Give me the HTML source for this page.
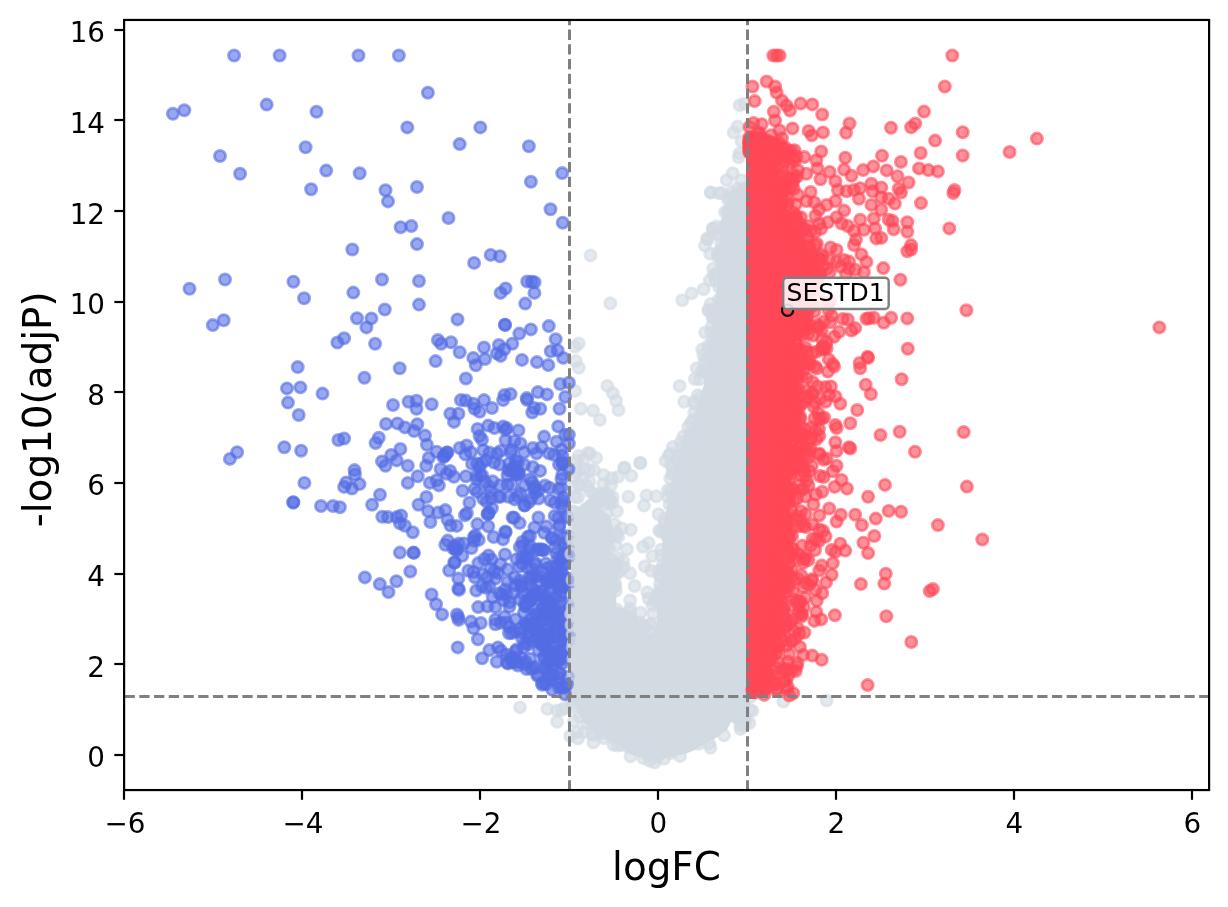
<!DOCTYPE html>
<html lang="en"><head><meta charset="utf-8"><title>Volcano plot</title>
<style>html,body{margin:0;padding:0;background:#fff}svg{display:block}text{font-family:"DejaVu Sans","Liberation Sans",sans-serif;fill:#000}</style></head>
<body>
<svg width="1228" height="907" viewBox="0 0 1228 907">
<rect width="1228" height="907" fill="#fff"/>
<defs><clipPath id="ax"><rect x="124.1" y="19.95" width="1085" height="770.1"/></clipPath></defs>
<g clip-path="url(#ax)">
<polygon fill="#d2dae2" points="747.5,182.0 738.0,186.0 730.0,196.0 724.0,210.0 720.0,225.0 720.0,253.0 717.0,286.0 713.0,319.0 707.0,352.0 704.0,385.0 693.0,418.0 678.0,451.0 671.0,484.0 665.0,517.0 663.0,533.0 661.0,566.0 658.0,600.0 656.0,628.0 650.0,634.0 638.0,621.0 636.0,612.0 616.0,606.0 617.0,582.0 619.0,572.0 608.0,557.0 614.0,531.0 609.0,514.0 590.0,510.0 572.0,512.0 568.0,700.0 574.0,704.0 579.0,715.0 584.0,723.0 592.0,730.0 602.0,734.0 606.0,740.0 615.0,742.0 623.0,748.0 632.0,755.0 644.0,758.0 658.0,760.0 672.0,757.0 685.0,754.0 695.0,750.0 704.0,744.0 716.0,738.0 727.0,730.0 731.0,722.0 739.0,726.0 747.0,724.0 750.0,712.0 750.0,700.0 746.0,700.0 746.0,182.0"/>
<g fill="#d2dae2" stroke="#d2dae2" fill-opacity="0.6" stroke-opacity="0.6" stroke-width="2.8">
<circle cx="590.5" cy="255.4" r="5.6"/>
<circle cx="610.3" cy="303.3" r="5.6"/>
<circle cx="682.3" cy="300.3" r="5.6"/>
<circle cx="691.7" cy="293.4" r="5.6"/>
<circle cx="703.6" cy="289.2" r="5.6"/>
<circle cx="710.3" cy="253.7" r="5.6"/>
<circle cx="578.8" cy="343.5" r="5.6"/>
<circle cx="575.1" cy="346.7" r="5.6"/>
<circle cx="575.8" cy="361.1" r="5.6"/>
<circle cx="578.8" cy="367.8" r="5.6"/>
<circle cx="575.1" cy="390.9" r="5.6"/>
<circle cx="580.8" cy="408.8" r="5.6"/>
<circle cx="593.0" cy="410.5" r="5.6"/>
<circle cx="599.9" cy="419.9" r="5.6"/>
<circle cx="607.3" cy="385.9" r="5.6"/>
<circle cx="612.8" cy="393.1" r="5.6"/>
<circle cx="616.0" cy="400.8" r="5.6"/>
<circle cx="618.5" cy="410.0" r="5.6"/>
<circle cx="679.6" cy="385.9" r="5.6"/>
<circle cx="694.9" cy="379.0" r="5.6"/>
<circle cx="696.7" cy="368.3" r="5.6"/>
<circle cx="640.3" cy="462.9" r="5.6"/>
<circle cx="624.2" cy="467.8" r="5.6"/>
<circle cx="590.0" cy="453.4" r="5.6"/>
<circle cx="596.2" cy="457.9" r="5.6"/>
<circle cx="578.8" cy="455.9" r="5.6"/>
<circle cx="710.8" cy="192.5" r="5.6"/>
<circle cx="719.0" cy="193.2" r="5.6"/>
<circle cx="712.8" cy="228.4" r="5.6"/>
<circle cx="707.8" cy="239.6" r="5.6"/>
<circle cx="739.7" cy="105.3" r="5.6"/>
<circle cx="744.6" cy="103.7" r="5.6"/>
<circle cx="737.7" cy="126.5" r="5.6"/>
<circle cx="733.7" cy="132.5" r="5.6"/>
<circle cx="741.6" cy="141.4" r="5.6"/>
<circle cx="739.7" cy="153.3" r="5.6"/>
<circle cx="738.7" cy="157.3" r="5.6"/>
<circle cx="732.7" cy="173.2" r="5.6"/>
<circle cx="726.7" cy="180.1" r="5.6"/>
<circle cx="710.9" cy="192.4" r="5.6"/>
<circle cx="721.8" cy="193.0" r="5.6"/>
<circle cx="731.7" cy="192.0" r="5.6"/>
<circle cx="741.6" cy="191.0" r="5.6"/>
<circle cx="712.9" cy="228.7" r="5.6"/>
<circle cx="706.9" cy="238.7" r="5.6"/>
<circle cx="547.4" cy="708.9" r="5.6"/>
<circle cx="557.1" cy="710.6" r="5.6"/>
<circle cx="561.7" cy="710.0" r="5.6"/>
<circle cx="565.0" cy="708.0" r="5.6"/>
<circle cx="572.1" cy="707.4" r="5.6"/>
<circle cx="557.1" cy="721.7" r="5.6"/>
<circle cx="574.1" cy="721.0" r="5.6"/>
<circle cx="587.1" cy="723.6" r="5.6"/>
<circle cx="570.2" cy="736.0" r="5.6"/>
<circle cx="578.0" cy="738.6" r="5.6"/>
<circle cx="577.3" cy="732.1" r="5.6"/>
<circle cx="583.8" cy="732.1" r="5.6"/>
<circle cx="593.4" cy="742.5" r="5.6"/>
<circle cx="520.0" cy="707.4" r="5.6"/>
<circle cx="710.4" cy="747.8" r="5.6"/>
<circle cx="724.0" cy="735.4" r="5.6"/>
<circle cx="749.4" cy="723.0" r="5.6"/>
<circle cx="750.1" cy="710.0" r="5.6"/>
<circle cx="750.7" cy="696.9" r="5.6"/>
<circle cx="783.3" cy="701.5" r="5.6"/>
<circle cx="740.3" cy="725.6" r="5.6"/>
<circle cx="826.7" cy="700.6" r="5.6"/>
<circle cx="658.9" cy="602.1" r="5.6"/>
<circle cx="655.1" cy="601.2" r="5.6"/>
<circle cx="653.0" cy="613.4" r="5.6"/>
<circle cx="650.9" cy="623.8" r="5.6"/>
<circle cx="660.1" cy="584.2" r="5.6"/>
<circle cx="661.9" cy="569.6" r="5.6"/>
<circle cx="667.2" cy="577.7" r="5.6"/>
<circle cx="660.3" cy="592.8" r="5.6"/>
<circle cx="666.3" cy="588.9" r="5.6"/>
<circle cx="660.2" cy="576.3" r="5.6"/>
<circle cx="657.6" cy="594.5" r="5.6"/>
<circle cx="660.3" cy="576.5" r="5.6"/>
<circle cx="658.3" cy="571.0" r="5.6"/>
<circle cx="660.3" cy="589.3" r="5.6"/>
<circle cx="655.6" cy="598.9" r="5.6"/>
<circle cx="658.0" cy="595.6" r="5.6"/>
<circle cx="666.8" cy="565.8" r="5.6"/>
<circle cx="661.1" cy="549.7" r="5.6"/>
<circle cx="669.4" cy="556.1" r="5.6"/>
<circle cx="666.4" cy="535.2" r="5.6"/>
<circle cx="661.3" cy="555.6" r="5.6"/>
<circle cx="663.1" cy="563.9" r="5.6"/>
<circle cx="669.5" cy="531.5" r="5.6"/>
<circle cx="664.5" cy="518.6" r="5.6"/>
<circle cx="671.6" cy="528.2" r="5.6"/>
<circle cx="666.1" cy="531.1" r="5.6"/>
<circle cx="660.7" cy="531.7" r="5.6"/>
<circle cx="663.9" cy="530.5" r="5.6"/>
<circle cx="664.5" cy="523.3" r="5.6"/>
<circle cx="659.1" cy="530.6" r="5.6"/>
<circle cx="656.3" cy="496.3" r="5.6"/>
<circle cx="675.5" cy="495.0" r="5.6"/>
<circle cx="672.8" cy="495.1" r="5.6"/>
<circle cx="658.6" cy="514.2" r="5.6"/>
<circle cx="667.8" cy="490.1" r="5.6"/>
<circle cx="670.8" cy="491.1" r="5.6"/>
<circle cx="669.6" cy="504.5" r="5.6"/>
<circle cx="668.1" cy="496.9" r="5.6"/>
<circle cx="673.0" cy="473.2" r="5.6"/>
<circle cx="670.3" cy="478.5" r="5.6"/>
<circle cx="665.5" cy="460.9" r="5.6"/>
<circle cx="672.3" cy="474.0" r="5.6"/>
<circle cx="677.4" cy="459.5" r="5.6"/>
<circle cx="670.4" cy="453.6" r="5.6"/>
<circle cx="670.9" cy="464.7" r="5.6"/>
<circle cx="679.3" cy="466.3" r="5.6"/>
<circle cx="668.8" cy="455.4" r="5.6"/>
<circle cx="672.7" cy="467.3" r="5.6"/>
<circle cx="677.8" cy="455.3" r="5.6"/>
<circle cx="683.4" cy="436.4" r="5.6"/>
<circle cx="691.1" cy="432.4" r="5.6"/>
<circle cx="689.2" cy="436.2" r="5.6"/>
<circle cx="691.0" cy="422.6" r="5.6"/>
<circle cx="686.1" cy="452.0" r="5.6"/>
<circle cx="672.9" cy="446.9" r="5.6"/>
<circle cx="681.3" cy="447.7" r="5.6"/>
<circle cx="688.1" cy="427.1" r="5.6"/>
<circle cx="680.8" cy="442.1" r="5.6"/>
<circle cx="689.9" cy="439.0" r="5.6"/>
<circle cx="693.7" cy="419.5" r="5.6"/>
<circle cx="700.1" cy="398.0" r="5.6"/>
<circle cx="693.7" cy="401.7" r="5.6"/>
<circle cx="684.1" cy="401.7" r="5.6"/>
<circle cx="694.8" cy="403.7" r="5.6"/>
<circle cx="694.3" cy="412.8" r="5.6"/>
<circle cx="697.9" cy="395.3" r="5.6"/>
<circle cx="704.5" cy="362.0" r="5.6"/>
<circle cx="710.8" cy="353.4" r="5.6"/>
<circle cx="699.6" cy="379.3" r="5.6"/>
<circle cx="709.7" cy="374.5" r="5.6"/>
<circle cx="705.5" cy="371.9" r="5.6"/>
<circle cx="701.6" cy="371.8" r="5.6"/>
<circle cx="703.4" cy="355.0" r="5.6"/>
<circle cx="710.6" cy="359.0" r="5.6"/>
<circle cx="705.5" cy="371.9" r="5.6"/>
<circle cx="706.6" cy="358.7" r="5.6"/>
<circle cx="704.2" cy="369.5" r="5.6"/>
<circle cx="711.9" cy="326.1" r="5.6"/>
<circle cx="711.1" cy="332.3" r="5.6"/>
<circle cx="710.4" cy="348.3" r="5.6"/>
<circle cx="705.2" cy="332.5" r="5.6"/>
<circle cx="708.1" cy="345.9" r="5.6"/>
<circle cx="712.4" cy="339.9" r="5.6"/>
<circle cx="702.2" cy="349.4" r="5.6"/>
<circle cx="719.3" cy="313.1" r="5.6"/>
<circle cx="710.7" cy="304.0" r="5.6"/>
<circle cx="712.8" cy="316.6" r="5.6"/>
<circle cx="712.6" cy="310.6" r="5.6"/>
<circle cx="721.2" cy="306.4" r="5.6"/>
<circle cx="716.1" cy="310.2" r="5.6"/>
<circle cx="712.9" cy="318.3" r="5.6"/>
<circle cx="719.3" cy="287.2" r="5.6"/>
<circle cx="718.4" cy="300.1" r="5.6"/>
<circle cx="713.6" cy="315.6" r="5.6"/>
<circle cx="708.5" cy="311.0" r="5.6"/>
<circle cx="708.7" cy="309.4" r="5.6"/>
<circle cx="717.7" cy="256.4" r="5.6"/>
<circle cx="721.8" cy="263.7" r="5.6"/>
<circle cx="724.4" cy="267.5" r="5.6"/>
<circle cx="718.9" cy="255.0" r="5.6"/>
<circle cx="717.2" cy="273.6" r="5.6"/>
<circle cx="723.0" cy="259.9" r="5.6"/>
<circle cx="713.2" cy="268.5" r="5.6"/>
<circle cx="715.6" cy="280.8" r="5.6"/>
<circle cx="709.9" cy="280.3" r="5.6"/>
<circle cx="724.1" cy="254.6" r="5.6"/>
<circle cx="713.7" cy="274.9" r="5.6"/>
<circle cx="722.6" cy="269.5" r="5.6"/>
<circle cx="716.3" cy="226.6" r="5.6"/>
<circle cx="712.6" cy="233.2" r="5.6"/>
<circle cx="720.2" cy="235.2" r="5.6"/>
<circle cx="727.2" cy="234.1" r="5.6"/>
<circle cx="704.9" cy="245.6" r="5.6"/>
<circle cx="721.8" cy="248.5" r="5.6"/>
<circle cx="721.2" cy="242.9" r="5.6"/>
<circle cx="717.7" cy="252.5" r="5.6"/>
<circle cx="725.9" cy="235.5" r="5.6"/>
<circle cx="724.3" cy="230.4" r="5.6"/>
<circle cx="721.8" cy="250.3" r="5.6"/>
<circle cx="587.0" cy="510.4" r="5.6"/>
<circle cx="573.0" cy="511.3" r="5.6"/>
<circle cx="585.0" cy="509.8" r="5.6"/>
<circle cx="589.0" cy="514.3" r="5.6"/>
<circle cx="597.8" cy="500.0" r="5.6"/>
<circle cx="603.8" cy="499.5" r="5.6"/>
<circle cx="596.6" cy="509.9" r="5.6"/>
<circle cx="593.3" cy="509.3" r="5.6"/>
<circle cx="614.5" cy="524.2" r="5.6"/>
<circle cx="621.7" cy="528.3" r="5.6"/>
<circle cx="616.7" cy="534.4" r="5.6"/>
<circle cx="609.0" cy="548.7" r="5.6"/>
<circle cx="607.7" cy="541.8" r="5.6"/>
<circle cx="603.4" cy="545.5" r="5.6"/>
<circle cx="609.5" cy="537.9" r="5.6"/>
<circle cx="606.2" cy="554.8" r="5.6"/>
<circle cx="601.9" cy="553.6" r="5.6"/>
<circle cx="616.8" cy="532.9" r="5.6"/>
<circle cx="618.1" cy="536.9" r="5.6"/>
<circle cx="618.1" cy="558.2" r="5.6"/>
<circle cx="613.4" cy="564.6" r="5.6"/>
<circle cx="612.2" cy="560.0" r="5.6"/>
<circle cx="624.0" cy="567.4" r="5.6"/>
<circle cx="617.2" cy="564.9" r="5.6"/>
<circle cx="604.0" cy="561.8" r="5.6"/>
<circle cx="619.1" cy="572.1" r="5.6"/>
<circle cx="615.8" cy="574.1" r="5.6"/>
<circle cx="615.2" cy="583.8" r="5.6"/>
<circle cx="615.2" cy="585.8" r="5.6"/>
<circle cx="611.6" cy="587.1" r="5.6"/>
<circle cx="615.9" cy="590.7" r="5.6"/>
<circle cx="612.9" cy="588.2" r="5.6"/>
<circle cx="616.5" cy="609.2" r="5.6"/>
<circle cx="629.1" cy="612.0" r="5.6"/>
<circle cx="630.2" cy="608.4" r="5.6"/>
<circle cx="640.7" cy="612.8" r="5.6"/>
<circle cx="642.3" cy="625.7" r="5.6"/>
<circle cx="649.6" cy="630.8" r="5.6"/>
<circle cx="640.4" cy="625.7" r="5.6"/>
<circle cx="649.3" cy="625.0" r="5.6"/>
<circle cx="645.1" cy="636.9" r="5.6"/>
<circle cx="639.8" cy="622.4" r="5.6"/>
<circle cx="645.4" cy="627.2" r="5.6"/>
<circle cx="725.4" cy="224.6" r="5.6"/>
<circle cx="728.9" cy="211.8" r="5.6"/>
<circle cx="725.1" cy="212.3" r="5.6"/>
<circle cx="727.8" cy="199.5" r="5.6"/>
<circle cx="729.8" cy="198.1" r="5.6"/>
<circle cx="727.8" cy="210.8" r="5.6"/>
<circle cx="738.0" cy="188.5" r="5.6"/>
<circle cx="732.9" cy="195.7" r="5.6"/>
<circle cx="745.6" cy="188.0" r="5.6"/>
<circle cx="741.2" cy="180.3" r="5.6"/>
<circle cx="752.4" cy="710.9" r="5.6"/>
<circle cx="743.8" cy="702.7" r="5.6"/>
<circle cx="744.3" cy="715.4" r="5.6"/>
<circle cx="745.8" cy="720.2" r="5.6"/>
<circle cx="744.0" cy="720.3" r="5.6"/>
<circle cx="740.5" cy="729.0" r="5.6"/>
<circle cx="744.5" cy="725.5" r="5.6"/>
<circle cx="709.2" cy="743.4" r="5.6"/>
<circle cx="698.9" cy="743.9" r="5.6"/>
<circle cx="680.1" cy="756.1" r="5.6"/>
<circle cx="670.1" cy="753.2" r="5.6"/>
<circle cx="659.3" cy="754.0" r="5.6"/>
<circle cx="664.0" cy="758.8" r="5.6"/>
<circle cx="644.8" cy="753.4" r="5.6"/>
<circle cx="649.7" cy="760.7" r="5.6"/>
<circle cx="650.9" cy="754.5" r="5.6"/>
<circle cx="657.3" cy="756.7" r="5.6"/>
<circle cx="654.6" cy="762.6" r="5.6"/>
<circle cx="643.2" cy="758.1" r="5.6"/>
<circle cx="630.5" cy="756.4" r="5.6"/>
<circle cx="629.1" cy="747.4" r="5.6"/>
<circle cx="617.5" cy="745.5" r="5.6"/>
<circle cx="621.9" cy="745.0" r="5.6"/>
<circle cx="613.1" cy="737.3" r="5.6"/>
<circle cx="613.4" cy="744.7" r="5.6"/>
<circle cx="604.1" cy="738.2" r="5.6"/>
<circle cx="600.8" cy="733.5" r="5.6"/>
<circle cx="591.9" cy="734.2" r="5.6"/>
<circle cx="595.5" cy="734.7" r="5.6"/>
<circle cx="579.7" cy="716.9" r="5.6"/>
<circle cx="571.4" cy="699.7" r="5.6"/>
<circle cx="571.7" cy="704.0" r="5.6"/>
<circle cx="589.5" cy="511.9" r="5.6"/>
<circle cx="606.6" cy="493.6" r="5.6"/>
<circle cx="578.0" cy="497.2" r="5.6"/>
<circle cx="583.7" cy="469.0" r="5.6"/>
<circle cx="578.5" cy="484.6" r="5.6"/>
<circle cx="577.0" cy="460.5" r="5.6"/>
<circle cx="598.4" cy="502.6" r="5.6"/>
<circle cx="605.8" cy="493.7" r="5.6"/>
<circle cx="590.2" cy="491.5" r="5.6"/>
<circle cx="588.0" cy="453.0" r="5.6"/>
<circle cx="576.8" cy="472.9" r="5.6"/>
<circle cx="612.5" cy="502.9" r="5.6"/>
<circle cx="593.9" cy="470.1" r="5.6"/>
<circle cx="574.9" cy="497.1" r="5.6"/>
<circle cx="593.9" cy="504.2" r="5.6"/>
<circle cx="612.6" cy="496.9" r="5.6"/>
<circle cx="603.2" cy="484.1" r="5.6"/>
<circle cx="580.3" cy="485.4" r="5.6"/>
<circle cx="593.8" cy="493.5" r="5.6"/>
<circle cx="608.8" cy="496.5" r="5.6"/>
<circle cx="576.7" cy="468.7" r="5.6"/>
<circle cx="588.6" cy="507.2" r="5.6"/>
<circle cx="601.4" cy="493.5" r="5.6"/>
<circle cx="606.6" cy="513.8" r="5.6"/>
<circle cx="591.5" cy="504.4" r="5.6"/>
<circle cx="573.7" cy="486.7" r="5.6"/>
<circle cx="599.6" cy="515.7" r="5.6"/>
<circle cx="603.5" cy="475.0" r="5.6"/>
<circle cx="583.1" cy="478.6" r="5.6"/>
<circle cx="589.4" cy="481.4" r="5.6"/>
<circle cx="611.0" cy="485.3" r="5.6"/>
<circle cx="589.1" cy="470.0" r="5.6"/>
<circle cx="581.1" cy="512.5" r="5.6"/>
<circle cx="595.0" cy="503.0" r="5.6"/>
<circle cx="587.5" cy="486.4" r="5.6"/>
<circle cx="583.9" cy="459.1" r="5.6"/>
<circle cx="610.4" cy="501.6" r="5.6"/>
<circle cx="597.3" cy="496.9" r="5.6"/>
<circle cx="607.7" cy="503.5" r="5.6"/>
<circle cx="573.7" cy="476.6" r="5.6"/>
<circle cx="640.2" cy="463.0" r="5.6"/>
<circle cx="624.5" cy="468.0" r="5.6"/>
<circle cx="631.3" cy="475.7" r="5.6"/>
<circle cx="611.8" cy="478.2" r="5.6"/>
<circle cx="618.1" cy="476.9" r="5.6"/>
<circle cx="628.3" cy="496.7" r="5.6"/>
<circle cx="646.5" cy="495.4" r="5.6"/>
<circle cx="644.0" cy="505.6" r="5.6"/>
<circle cx="616.9" cy="511.2" r="5.6"/>
<circle cx="609.3" cy="502.3" r="5.6"/>
<circle cx="630.8" cy="529.7" r="5.6"/>
<circle cx="643.0" cy="546.7" r="5.6"/>
<circle cx="648.6" cy="542.9" r="5.6"/>
<circle cx="627.0" cy="549.2" r="5.6"/>
<circle cx="615.6" cy="545.4" r="5.6"/>
<circle cx="623.2" cy="561.1" r="5.6"/>
<circle cx="652.4" cy="556.0" r="5.6"/>
<circle cx="644.8" cy="566.2" r="5.6"/>
<circle cx="651.1" cy="570.8" r="5.6"/>
<circle cx="630.1" cy="573.3" r="5.6"/>
<circle cx="634.6" cy="586.0" r="5.6"/>
<circle cx="647.3" cy="592.3" r="5.6"/>
<circle cx="648.6" cy="598.7" r="5.6"/>
<circle cx="630.1" cy="600.4" r="5.6"/>
<circle cx="652.4" cy="605.0" r="5.6"/>
</g>
<g fill="#546de5" stroke="#546de5" fill-opacity="0.6" stroke-opacity="0.6" stroke-width="2.8">
<circle cx="234.1" cy="55.5" r="5.6"/>
<circle cx="279.6" cy="55.5" r="5.6"/>
<circle cx="358.5" cy="55.5" r="5.6"/>
<circle cx="398.9" cy="55.5" r="5.6"/>
<circle cx="172.9" cy="113.8" r="5.6"/>
<circle cx="184.3" cy="110.3" r="5.6"/>
<circle cx="266.7" cy="104.6" r="5.6"/>
<circle cx="316.5" cy="111.8" r="5.6"/>
<circle cx="407.3" cy="127.4" r="5.6"/>
<circle cx="305.6" cy="147.3" r="5.6"/>
<circle cx="220.0" cy="156.0" r="5.6"/>
<circle cx="240.1" cy="173.8" r="5.6"/>
<circle cx="326.2" cy="170.6" r="5.6"/>
<circle cx="359.7" cy="173.3" r="5.6"/>
<circle cx="311.1" cy="189.2" r="5.6"/>
<circle cx="385.5" cy="190.2" r="5.6"/>
<circle cx="388.0" cy="201.4" r="5.6"/>
<circle cx="417.0" cy="187.0" r="5.6"/>
<circle cx="400.6" cy="227.2" r="5.6"/>
<circle cx="411.3" cy="226.0" r="5.6"/>
<circle cx="417.0" cy="244.1" r="5.6"/>
<circle cx="427.9" cy="92.7" r="5.6"/>
<circle cx="480.3" cy="127.4" r="5.6"/>
<circle cx="459.7" cy="144.1" r="5.6"/>
<circle cx="528.9" cy="146.3" r="5.6"/>
<circle cx="562.2" cy="173.1" r="5.6"/>
<circle cx="530.9" cy="181.8" r="5.6"/>
<circle cx="550.5" cy="209.3" r="5.6"/>
<circle cx="448.5" cy="218.0" r="5.6"/>
<circle cx="562.7" cy="222.7" r="5.6"/>
<circle cx="352.3" cy="249.5" r="5.6"/>
<circle cx="189.5" cy="288.7" r="5.6"/>
<circle cx="225.0" cy="279.5" r="5.6"/>
<circle cx="293.4" cy="281.7" r="5.6"/>
<circle cx="304.1" cy="298.3" r="5.6"/>
<circle cx="382.0" cy="279.5" r="5.6"/>
<circle cx="353.3" cy="292.6" r="5.6"/>
<circle cx="419.0" cy="281.0" r="5.6"/>
<circle cx="419.0" cy="304.6" r="5.6"/>
<circle cx="384.8" cy="309.5" r="5.6"/>
<circle cx="212.8" cy="325.1" r="5.6"/>
<circle cx="223.7" cy="320.2" r="5.6"/>
<circle cx="357.0" cy="318.2" r="5.6"/>
<circle cx="371.4" cy="318.4" r="5.6"/>
<circle cx="366.4" cy="327.4" r="5.6"/>
<circle cx="344.1" cy="338.3" r="5.6"/>
<circle cx="337.4" cy="342.5" r="5.6"/>
<circle cx="375.1" cy="343.8" r="5.6"/>
<circle cx="297.7" cy="367.1" r="5.6"/>
<circle cx="399.7" cy="368.3" r="5.6"/>
<circle cx="364.4" cy="377.8" r="5.6"/>
<circle cx="287.0" cy="388.4" r="5.6"/>
<circle cx="300.4" cy="387.4" r="5.6"/>
<circle cx="322.5" cy="393.6" r="5.6"/>
<circle cx="288.0" cy="402.6" r="5.6"/>
<circle cx="298.7" cy="415.0" r="5.6"/>
<circle cx="393.0" cy="405.0" r="5.6"/>
<circle cx="408.6" cy="401.8" r="5.6"/>
<circle cx="416.5" cy="400.8" r="5.6"/>
<circle cx="416.5" cy="408.8" r="5.6"/>
<circle cx="386.0" cy="423.9" r="5.6"/>
<circle cx="397.4" cy="423.4" r="5.6"/>
<circle cx="404.9" cy="427.4" r="5.6"/>
<circle cx="414.0" cy="431.1" r="5.6"/>
<circle cx="417.3" cy="424.2" r="5.6"/>
<circle cx="338.4" cy="440.0" r="5.6"/>
<circle cx="344.1" cy="438.5" r="5.6"/>
<circle cx="378.8" cy="437.8" r="5.6"/>
<circle cx="375.6" cy="443.0" r="5.6"/>
<circle cx="237.1" cy="452.2" r="5.6"/>
<circle cx="229.9" cy="458.9" r="5.6"/>
<circle cx="284.3" cy="447.2" r="5.6"/>
<circle cx="301.1" cy="450.7" r="5.6"/>
<circle cx="400.4" cy="449.0" r="5.6"/>
<circle cx="391.2" cy="454.9" r="5.6"/>
<circle cx="396.7" cy="460.4" r="5.6"/>
<circle cx="382.0" cy="461.4" r="5.6"/>
<circle cx="385.5" cy="465.8" r="5.6"/>
<circle cx="407.8" cy="465.8" r="5.6"/>
<circle cx="354.5" cy="470.1" r="5.6"/>
<circle cx="490.7" cy="254.9" r="5.6"/>
<circle cx="499.9" cy="256.2" r="5.6"/>
<circle cx="474.1" cy="262.9" r="5.6"/>
<circle cx="527.2" cy="281.5" r="5.6"/>
<circle cx="531.7" cy="281.7" r="5.6"/>
<circle cx="534.6" cy="282.2" r="5.6"/>
<circle cx="505.6" cy="288.4" r="5.6"/>
<circle cx="500.6" cy="292.9" r="5.6"/>
<circle cx="534.4" cy="292.9" r="5.6"/>
<circle cx="525.2" cy="303.6" r="5.6"/>
<circle cx="457.5" cy="319.4" r="5.6"/>
<circle cx="504.9" cy="324.7" r="5.6"/>
<circle cx="505.1" cy="324.9" r="5.6"/>
<circle cx="530.9" cy="329.4" r="5.6"/>
<circle cx="519.3" cy="333.6" r="5.6"/>
<circle cx="548.8" cy="326.1" r="5.6"/>
<circle cx="555.7" cy="339.3" r="5.6"/>
<circle cx="437.9" cy="340.0" r="5.6"/>
<circle cx="441.1" cy="343.8" r="5.6"/>
<circle cx="451.0" cy="342.3" r="5.6"/>
<circle cx="459.7" cy="352.2" r="5.6"/>
<circle cx="435.6" cy="361.1" r="5.6"/>
<circle cx="484.0" cy="347.5" r="5.6"/>
<circle cx="498.9" cy="345.0" r="5.6"/>
<circle cx="504.4" cy="349.2" r="5.6"/>
<circle cx="496.9" cy="353.4" r="5.6"/>
<circle cx="500.6" cy="355.9" r="5.6"/>
<circle cx="512.3" cy="343.8" r="5.6"/>
<circle cx="473.3" cy="357.9" r="5.6"/>
<circle cx="485.0" cy="359.1" r="5.6"/>
<circle cx="475.8" cy="365.3" r="5.6"/>
<circle cx="522.0" cy="359.9" r="5.6"/>
<circle cx="536.9" cy="362.1" r="5.6"/>
<circle cx="548.3" cy="365.1" r="5.6"/>
<circle cx="550.8" cy="351.2" r="5.6"/>
<circle cx="557.7" cy="350.5" r="5.6"/>
<circle cx="563.2" cy="357.9" r="5.6"/>
<circle cx="465.9" cy="378.5" r="5.6"/>
<circle cx="560.2" cy="384.0" r="5.6"/>
<circle cx="568.9" cy="382.7" r="5.6"/>
<circle cx="565.2" cy="396.9" r="5.6"/>
<circle cx="431.7" cy="404.3" r="5.6"/>
<circle cx="460.9" cy="400.1" r="5.6"/>
<circle cx="465.9" cy="400.6" r="5.6"/>
<circle cx="473.3" cy="403.8" r="5.6"/>
<circle cx="484.0" cy="400.1" r="5.6"/>
<circle cx="474.6" cy="408.8" r="5.6"/>
<circle cx="479.6" cy="411.7" r="5.6"/>
<circle cx="492.0" cy="408.0" r="5.6"/>
<circle cx="504.4" cy="395.1" r="5.6"/>
<circle cx="510.6" cy="394.1" r="5.6"/>
<circle cx="503.1" cy="400.1" r="5.6"/>
<circle cx="526.7" cy="398.1" r="5.6"/>
<circle cx="527.2" cy="400.1" r="5.6"/>
<circle cx="537.9" cy="392.1" r="5.6"/>
<circle cx="547.0" cy="394.4" r="5.6"/>
<circle cx="534.1" cy="408.0" r="5.6"/>
<circle cx="540.3" cy="408.8" r="5.6"/>
<circle cx="532.2" cy="412.5" r="5.6"/>
<circle cx="559.5" cy="408.8" r="5.6"/>
<circle cx="450.3" cy="413.7" r="5.6"/>
<circle cx="458.5" cy="413.7" r="5.6"/>
<circle cx="454.0" cy="421.9" r="5.6"/>
<circle cx="477.6" cy="428.9" r="5.6"/>
<circle cx="488.2" cy="425.6" r="5.6"/>
<circle cx="494.4" cy="428.1" r="5.6"/>
<circle cx="503.1" cy="426.6" r="5.6"/>
<circle cx="506.8" cy="428.1" r="5.6"/>
<circle cx="505.6" cy="429.9" r="5.6"/>
<circle cx="518.5" cy="430.4" r="5.6"/>
<circle cx="558.2" cy="426.4" r="5.6"/>
<circle cx="479.6" cy="436.1" r="5.6"/>
<circle cx="482.0" cy="439.8" r="5.6"/>
<circle cx="505.6" cy="440.3" r="5.6"/>
<circle cx="514.3" cy="441.0" r="5.6"/>
<circle cx="520.5" cy="443.5" r="5.6"/>
<circle cx="544.1" cy="436.6" r="5.6"/>
<circle cx="556.5" cy="441.8" r="5.6"/>
<circle cx="565.2" cy="434.8" r="5.6"/>
<circle cx="568.9" cy="434.8" r="5.6"/>
<circle cx="568.9" cy="443.5" r="5.6"/>
<circle cx="425.0" cy="435.6" r="5.6"/>
<circle cx="426.9" cy="444.8" r="5.6"/>
<circle cx="436.6" cy="451.7" r="5.6"/>
<circle cx="446.8" cy="452.4" r="5.6"/>
<circle cx="459.7" cy="448.0" r="5.6"/>
<circle cx="466.7" cy="445.5" r="5.6"/>
<circle cx="470.9" cy="452.2" r="5.6"/>
<circle cx="483.3" cy="450.2" r="5.6"/>
<circle cx="496.9" cy="453.4" r="5.6"/>
<circle cx="500.6" cy="451.0" r="5.6"/>
<circle cx="510.6" cy="452.2" r="5.6"/>
<circle cx="511.8" cy="449.7" r="5.6"/>
<circle cx="524.2" cy="452.2" r="5.6"/>
<circle cx="532.9" cy="448.0" r="5.6"/>
<circle cx="536.6" cy="453.4" r="5.6"/>
<circle cx="541.6" cy="447.2" r="5.6"/>
<circle cx="549.0" cy="453.4" r="5.6"/>
<circle cx="554.0" cy="454.7" r="5.6"/>
<circle cx="561.4" cy="449.7" r="5.6"/>
<circle cx="428.7" cy="457.9" r="5.6"/>
<circle cx="426.2" cy="465.8" r="5.6"/>
<circle cx="472.1" cy="463.9" r="5.6"/>
<circle cx="477.1" cy="463.4" r="5.6"/>
<circle cx="482.0" cy="462.9" r="5.6"/>
<circle cx="499.4" cy="464.6" r="5.6"/>
<circle cx="509.3" cy="463.4" r="5.6"/>
<circle cx="518.0" cy="462.1" r="5.6"/>
<circle cx="524.2" cy="464.6" r="5.6"/>
<circle cx="532.9" cy="467.1" r="5.6"/>
<circle cx="559.0" cy="464.6" r="5.6"/>
<circle cx="562.7" cy="463.4" r="5.6"/>
<circle cx="304.4" cy="482.9" r="5.6"/>
<circle cx="355.0" cy="474.5" r="5.6"/>
<circle cx="346.3" cy="482.4" r="5.6"/>
<circle cx="344.1" cy="486.9" r="5.6"/>
<circle cx="352.0" cy="488.6" r="5.6"/>
<circle cx="359.5" cy="484.1" r="5.6"/>
<circle cx="407.8" cy="482.9" r="5.6"/>
<circle cx="417.8" cy="476.2" r="5.6"/>
<circle cx="380.0" cy="494.8" r="5.6"/>
<circle cx="372.1" cy="504.7" r="5.6"/>
<circle cx="418.5" cy="504.7" r="5.6"/>
<circle cx="293.2" cy="502.3" r="5.6"/>
<circle cx="293.4" cy="502.5" r="5.6"/>
<circle cx="321.0" cy="506.0" r="5.6"/>
<circle cx="332.9" cy="506.0" r="5.6"/>
<circle cx="339.9" cy="507.2" r="5.6"/>
<circle cx="382.3" cy="516.7" r="5.6"/>
<circle cx="388.0" cy="517.1" r="5.6"/>
<circle cx="396.7" cy="517.1" r="5.6"/>
<circle cx="401.1" cy="515.4" r="5.6"/>
<circle cx="399.9" cy="523.3" r="5.6"/>
<circle cx="404.9" cy="525.8" r="5.6"/>
<circle cx="412.8" cy="532.3" r="5.6"/>
<circle cx="399.9" cy="552.6" r="5.6"/>
<circle cx="413.5" cy="552.6" r="5.6"/>
<circle cx="413.8" cy="552.9" r="5.6"/>
<circle cx="410.3" cy="571.5" r="5.6"/>
<circle cx="364.9" cy="577.4" r="5.6"/>
<circle cx="379.8" cy="584.1" r="5.6"/>
<circle cx="396.4" cy="581.2" r="5.6"/>
<circle cx="388.5" cy="592.1" r="5.6"/>
<circle cx="431.6" cy="594.5" r="5.6"/>
<circle cx="436.1" cy="604.2" r="5.6"/>
<circle cx="442.1" cy="614.4" r="5.6"/>
<circle cx="458.3" cy="588.6" r="5.6"/>
<circle cx="459.0" cy="589.9" r="5.6"/>
<circle cx="458.3" cy="578.6" r="5.6"/>
<circle cx="457.0" cy="614.4" r="5.6"/>
<circle cx="458.1" cy="617.3" r="5.6"/>
<circle cx="458.6" cy="619.9" r="5.6"/>
<circle cx="474.9" cy="577.3" r="5.6"/>
<circle cx="476.2" cy="590.6" r="5.6"/>
<circle cx="482.1" cy="586.6" r="5.6"/>
<circle cx="486.1" cy="587.9" r="5.6"/>
<circle cx="489.4" cy="585.9" r="5.6"/>
<circle cx="478.2" cy="607.1" r="5.6"/>
<circle cx="487.4" cy="606.4" r="5.6"/>
<circle cx="495.4" cy="607.1" r="5.6"/>
<circle cx="470.9" cy="621.6" r="5.6"/>
<circle cx="480.8" cy="623.0" r="5.6"/>
<circle cx="473.5" cy="628.2" r="5.6"/>
<circle cx="477.9" cy="639.2" r="5.6"/>
<circle cx="457.7" cy="647.4" r="5.6"/>
<circle cx="495.4" cy="619.7" r="5.6"/>
<circle cx="495.4" cy="624.3" r="5.6"/>
<circle cx="482.1" cy="658.3" r="5.6"/>
<circle cx="496.7" cy="661.7" r="5.6"/>
<circle cx="489.4" cy="650.1" r="5.6"/>
<circle cx="498.0" cy="647.4" r="5.6"/>
<circle cx="492.7" cy="597.2" r="5.6"/>
<circle cx="499.3" cy="593.2" r="5.6"/>
<circle cx="487.4" cy="577.3" r="5.6"/>
<circle cx="495.4" cy="578.6" r="5.6"/>
<circle cx="528.4" cy="625.7" r="5.6"/>
<circle cx="555.7" cy="597.2" r="5.6"/>
<circle cx="531.2" cy="668.8" r="5.6"/>
<circle cx="528.9" cy="598.3" r="5.6"/>
<circle cx="567.9" cy="620.6" r="5.6"/>
<circle cx="557.9" cy="682.8" r="5.6"/>
<circle cx="558.1" cy="558.5" r="5.6"/>
<circle cx="462.6" cy="490.7" r="5.6"/>
<circle cx="528.1" cy="557.0" r="5.6"/>
<circle cx="525.0" cy="606.1" r="5.6"/>
<circle cx="484.8" cy="481.5" r="5.6"/>
<circle cx="550.0" cy="601.7" r="5.6"/>
<circle cx="482.7" cy="574.4" r="5.6"/>
<circle cx="527.5" cy="634.5" r="5.6"/>
<circle cx="540.3" cy="581.4" r="5.6"/>
<circle cx="563.7" cy="639.9" r="5.6"/>
<circle cx="559.3" cy="617.5" r="5.6"/>
<circle cx="545.9" cy="563.4" r="5.6"/>
<circle cx="546.8" cy="568.2" r="5.6"/>
<circle cx="517.9" cy="471.4" r="5.6"/>
<circle cx="525.1" cy="557.0" r="5.6"/>
<circle cx="547.4" cy="663.4" r="5.6"/>
<circle cx="449.2" cy="570.5" r="5.6"/>
<circle cx="535.5" cy="492.5" r="5.6"/>
<circle cx="558.5" cy="489.0" r="5.6"/>
<circle cx="544.8" cy="646.4" r="5.6"/>
<circle cx="525.3" cy="664.4" r="5.6"/>
<circle cx="507.7" cy="581.8" r="5.6"/>
<circle cx="562.3" cy="652.2" r="5.6"/>
<circle cx="541.3" cy="571.1" r="5.6"/>
<circle cx="509.2" cy="627.0" r="5.6"/>
<circle cx="525.2" cy="602.6" r="5.6"/>
<circle cx="473.3" cy="572.0" r="5.6"/>
<circle cx="546.1" cy="684.2" r="5.6"/>
<circle cx="519.6" cy="523.1" r="5.6"/>
<circle cx="443.4" cy="457.0" r="5.6"/>
<circle cx="542.1" cy="614.1" r="5.6"/>
<circle cx="563.9" cy="537.2" r="5.6"/>
<circle cx="536.0" cy="614.4" r="5.6"/>
<circle cx="462.3" cy="555.7" r="5.6"/>
<circle cx="514.7" cy="577.6" r="5.6"/>
<circle cx="555.3" cy="610.0" r="5.6"/>
<circle cx="548.7" cy="635.5" r="5.6"/>
<circle cx="521.4" cy="586.2" r="5.6"/>
<circle cx="546.5" cy="526.4" r="5.6"/>
<circle cx="498.0" cy="573.1" r="5.6"/>
<circle cx="566.5" cy="627.0" r="5.6"/>
<circle cx="504.4" cy="616.8" r="5.6"/>
<circle cx="565.4" cy="577.4" r="5.6"/>
<circle cx="536.2" cy="636.1" r="5.6"/>
<circle cx="531.3" cy="641.2" r="5.6"/>
<circle cx="563.2" cy="564.8" r="5.6"/>
<circle cx="555.1" cy="605.9" r="5.6"/>
<circle cx="540.8" cy="622.5" r="5.6"/>
<circle cx="568.4" cy="609.3" r="5.6"/>
<circle cx="505.5" cy="531.5" r="5.6"/>
<circle cx="519.3" cy="473.5" r="5.6"/>
<circle cx="512.0" cy="633.1" r="5.6"/>
<circle cx="548.3" cy="662.9" r="5.6"/>
<circle cx="565.0" cy="694.3" r="5.6"/>
<circle cx="561.8" cy="659.9" r="5.6"/>
<circle cx="559.0" cy="687.7" r="5.6"/>
<circle cx="530.0" cy="536.0" r="5.6"/>
<circle cx="453.2" cy="548.2" r="5.6"/>
<circle cx="465.0" cy="515.2" r="5.6"/>
<circle cx="559.9" cy="635.5" r="5.6"/>
<circle cx="526.6" cy="669.1" r="5.6"/>
<circle cx="540.1" cy="470.9" r="5.6"/>
<circle cx="491.9" cy="508.3" r="5.6"/>
<circle cx="538.5" cy="490.5" r="5.6"/>
<circle cx="563.0" cy="500.7" r="5.6"/>
<circle cx="547.7" cy="668.4" r="5.6"/>
<circle cx="557.1" cy="645.0" r="5.6"/>
<circle cx="551.8" cy="665.2" r="5.6"/>
<circle cx="478.4" cy="563.1" r="5.6"/>
<circle cx="523.2" cy="593.2" r="5.6"/>
<circle cx="463.9" cy="543.4" r="5.6"/>
<circle cx="561.4" cy="503.8" r="5.6"/>
<circle cx="542.9" cy="608.6" r="5.6"/>
<circle cx="522.0" cy="563.7" r="5.6"/>
<circle cx="551.3" cy="566.8" r="5.6"/>
<circle cx="454.2" cy="562.5" r="5.6"/>
<circle cx="568.5" cy="612.8" r="5.6"/>
<circle cx="551.3" cy="659.4" r="5.6"/>
<circle cx="553.4" cy="581.2" r="5.6"/>
<circle cx="486.5" cy="460.1" r="5.6"/>
<circle cx="542.2" cy="683.0" r="5.6"/>
<circle cx="522.9" cy="545.6" r="5.6"/>
<circle cx="515.7" cy="460.8" r="5.6"/>
<circle cx="558.1" cy="581.2" r="5.6"/>
<circle cx="569.0" cy="636.2" r="5.6"/>
<circle cx="455.3" cy="547.0" r="5.6"/>
<circle cx="531.5" cy="617.8" r="5.6"/>
<circle cx="521.2" cy="632.4" r="5.6"/>
<circle cx="567.1" cy="517.7" r="5.6"/>
<circle cx="550.4" cy="500.3" r="5.6"/>
<circle cx="532.3" cy="576.8" r="5.6"/>
<circle cx="486.8" cy="501.8" r="5.6"/>
<circle cx="515.8" cy="651.2" r="5.6"/>
<circle cx="555.3" cy="627.5" r="5.6"/>
<circle cx="564.0" cy="586.4" r="5.6"/>
<circle cx="478.7" cy="539.9" r="5.6"/>
<circle cx="530.0" cy="545.8" r="5.6"/>
<circle cx="560.9" cy="591.8" r="5.6"/>
<circle cx="456.1" cy="550.4" r="5.6"/>
<circle cx="445.3" cy="544.7" r="5.6"/>
<circle cx="542.7" cy="591.1" r="5.6"/>
<circle cx="512.1" cy="484.7" r="5.6"/>
<circle cx="536.3" cy="594.8" r="5.6"/>
<circle cx="489.5" cy="452.6" r="5.6"/>
<circle cx="559.6" cy="673.1" r="5.6"/>
<circle cx="567.4" cy="580.8" r="5.6"/>
<circle cx="445.3" cy="510.1" r="5.6"/>
<circle cx="549.4" cy="672.8" r="5.6"/>
<circle cx="551.3" cy="616.9" r="5.6"/>
<circle cx="549.8" cy="600.9" r="5.6"/>
<circle cx="500.4" cy="564.3" r="5.6"/>
<circle cx="542.3" cy="644.0" r="5.6"/>
<circle cx="513.3" cy="661.6" r="5.6"/>
<circle cx="532.2" cy="482.0" r="5.6"/>
<circle cx="530.7" cy="600.2" r="5.6"/>
<circle cx="533.4" cy="627.6" r="5.6"/>
<circle cx="488.5" cy="555.4" r="5.6"/>
<circle cx="477.4" cy="524.1" r="5.6"/>
<circle cx="525.3" cy="643.1" r="5.6"/>
<circle cx="446.7" cy="473.7" r="5.6"/>
<circle cx="524.6" cy="505.6" r="5.6"/>
<circle cx="548.9" cy="582.2" r="5.6"/>
<circle cx="558.5" cy="659.0" r="5.6"/>
<circle cx="552.8" cy="573.2" r="5.6"/>
<circle cx="494.2" cy="462.5" r="5.6"/>
<circle cx="533.8" cy="488.6" r="5.6"/>
<circle cx="554.2" cy="636.9" r="5.6"/>
<circle cx="516.0" cy="474.2" r="5.6"/>
<circle cx="426.4" cy="497.0" r="5.6"/>
<circle cx="512.3" cy="662.2" r="5.6"/>
<circle cx="447.7" cy="540.6" r="5.6"/>
<circle cx="564.5" cy="544.3" r="5.6"/>
<circle cx="563.4" cy="497.4" r="5.6"/>
<circle cx="475.3" cy="535.5" r="5.6"/>
<circle cx="550.6" cy="578.2" r="5.6"/>
<circle cx="508.3" cy="470.0" r="5.6"/>
<circle cx="471.5" cy="548.1" r="5.6"/>
<circle cx="538.6" cy="498.5" r="5.6"/>
<circle cx="529.1" cy="502.1" r="5.6"/>
<circle cx="567.7" cy="587.1" r="5.6"/>
<circle cx="518.3" cy="474.9" r="5.6"/>
<circle cx="541.7" cy="644.9" r="5.6"/>
<circle cx="552.2" cy="537.4" r="5.6"/>
<circle cx="465.3" cy="454.4" r="5.6"/>
<circle cx="551.8" cy="538.3" r="5.6"/>
<circle cx="530.6" cy="600.3" r="5.6"/>
<circle cx="456.7" cy="525.9" r="5.6"/>
<circle cx="454.7" cy="545.7" r="5.6"/>
<circle cx="534.5" cy="562.3" r="5.6"/>
<circle cx="560.5" cy="652.2" r="5.6"/>
<circle cx="483.2" cy="498.8" r="5.6"/>
<circle cx="545.5" cy="630.5" r="5.6"/>
<circle cx="536.5" cy="599.8" r="5.6"/>
<circle cx="549.9" cy="604.4" r="5.6"/>
<circle cx="528.0" cy="644.5" r="5.6"/>
<circle cx="566.1" cy="634.3" r="5.6"/>
<circle cx="543.5" cy="656.6" r="5.6"/>
<circle cx="566.6" cy="556.0" r="5.6"/>
<circle cx="534.5" cy="527.5" r="5.6"/>
<circle cx="526.5" cy="558.7" r="5.6"/>
<circle cx="543.7" cy="667.9" r="5.6"/>
<circle cx="552.2" cy="689.8" r="5.6"/>
<circle cx="556.3" cy="574.0" r="5.6"/>
<circle cx="490.5" cy="568.2" r="5.6"/>
<circle cx="493.7" cy="537.0" r="5.6"/>
<circle cx="521.3" cy="657.9" r="5.6"/>
<circle cx="519.6" cy="599.4" r="5.6"/>
<circle cx="562.6" cy="463.4" r="5.6"/>
<circle cx="554.7" cy="515.9" r="5.6"/>
<circle cx="567.4" cy="578.5" r="5.6"/>
<circle cx="533.4" cy="589.7" r="5.6"/>
<circle cx="560.6" cy="559.7" r="5.6"/>
<circle cx="531.4" cy="596.8" r="5.6"/>
<circle cx="531.6" cy="568.8" r="5.6"/>
<circle cx="537.4" cy="576.1" r="5.6"/>
<circle cx="509.4" cy="606.7" r="5.6"/>
<circle cx="538.4" cy="517.5" r="5.6"/>
<circle cx="501.0" cy="650.7" r="5.6"/>
<circle cx="438.2" cy="512.6" r="5.6"/>
<circle cx="535.8" cy="594.3" r="5.6"/>
<circle cx="520.4" cy="493.6" r="5.6"/>
<circle cx="548.2" cy="633.9" r="5.6"/>
<circle cx="491.1" cy="498.3" r="5.6"/>
<circle cx="562.4" cy="687.6" r="5.6"/>
<circle cx="488.3" cy="526.4" r="5.6"/>
<circle cx="547.9" cy="655.1" r="5.6"/>
<circle cx="537.2" cy="675.5" r="5.6"/>
<circle cx="517.6" cy="661.3" r="5.6"/>
<circle cx="564.5" cy="635.3" r="5.6"/>
<circle cx="563.2" cy="650.3" r="5.6"/>
<circle cx="555.7" cy="540.3" r="5.6"/>
<circle cx="525.8" cy="606.3" r="5.6"/>
<circle cx="521.2" cy="583.4" r="5.6"/>
<circle cx="515.5" cy="619.4" r="5.6"/>
<circle cx="548.6" cy="638.6" r="5.6"/>
<circle cx="562.2" cy="556.9" r="5.6"/>
<circle cx="466.9" cy="513.3" r="5.6"/>
<circle cx="479.5" cy="466.9" r="5.6"/>
<circle cx="539.9" cy="642.6" r="5.6"/>
<circle cx="488.9" cy="512.7" r="5.6"/>
<circle cx="560.5" cy="595.6" r="5.6"/>
<circle cx="545.0" cy="613.4" r="5.6"/>
<circle cx="526.8" cy="624.3" r="5.6"/>
<circle cx="468.3" cy="570.7" r="5.6"/>
<circle cx="490.3" cy="491.1" r="5.6"/>
<circle cx="536.3" cy="666.8" r="5.6"/>
<circle cx="567.0" cy="684.2" r="5.6"/>
<circle cx="534.6" cy="591.8" r="5.6"/>
<circle cx="525.7" cy="661.7" r="5.6"/>
<circle cx="544.0" cy="616.7" r="5.6"/>
<circle cx="506.4" cy="654.7" r="5.6"/>
<circle cx="505.0" cy="554.4" r="5.6"/>
<circle cx="562.1" cy="581.0" r="5.6"/>
<circle cx="553.9" cy="578.2" r="5.6"/>
<circle cx="552.4" cy="620.9" r="5.6"/>
<circle cx="541.9" cy="594.4" r="5.6"/>
<circle cx="547.0" cy="599.9" r="5.6"/>
<circle cx="509.5" cy="602.2" r="5.6"/>
<circle cx="522.1" cy="557.3" r="5.6"/>
<circle cx="561.7" cy="578.5" r="5.6"/>
<circle cx="500.4" cy="496.8" r="5.6"/>
<circle cx="515.1" cy="585.3" r="5.6"/>
<circle cx="511.7" cy="470.2" r="5.6"/>
<circle cx="549.7" cy="591.6" r="5.6"/>
<circle cx="538.4" cy="549.2" r="5.6"/>
<circle cx="482.0" cy="475.1" r="5.6"/>
<circle cx="566.5" cy="553.9" r="5.6"/>
<circle cx="562.5" cy="633.3" r="5.6"/>
<circle cx="543.7" cy="550.4" r="5.6"/>
<circle cx="453.9" cy="476.8" r="5.6"/>
<circle cx="548.9" cy="677.1" r="5.6"/>
<circle cx="501.7" cy="594.5" r="5.6"/>
<circle cx="509.0" cy="633.2" r="5.6"/>
<circle cx="484.5" cy="559.0" r="5.6"/>
<circle cx="523.5" cy="647.8" r="5.6"/>
<circle cx="529.5" cy="577.1" r="5.6"/>
<circle cx="544.6" cy="682.2" r="5.6"/>
<circle cx="515.2" cy="465.6" r="5.6"/>
<circle cx="545.0" cy="485.5" r="5.6"/>
<circle cx="556.1" cy="553.2" r="5.6"/>
<circle cx="562.3" cy="663.5" r="5.6"/>
<circle cx="530.1" cy="658.7" r="5.6"/>
<circle cx="556.5" cy="627.1" r="5.6"/>
<circle cx="469.4" cy="502.7" r="5.6"/>
<circle cx="561.5" cy="479.2" r="5.6"/>
<circle cx="562.3" cy="474.7" r="5.6"/>
<circle cx="560.7" cy="602.3" r="5.6"/>
<circle cx="535.7" cy="576.1" r="5.6"/>
<circle cx="514.3" cy="467.9" r="5.6"/>
<circle cx="538.8" cy="629.7" r="5.6"/>
<circle cx="537.5" cy="592.2" r="5.6"/>
<circle cx="555.4" cy="660.1" r="5.6"/>
<circle cx="440.6" cy="469.0" r="5.6"/>
<circle cx="543.2" cy="619.9" r="5.6"/>
<circle cx="556.0" cy="623.6" r="5.6"/>
<circle cx="488.0" cy="514.1" r="5.6"/>
<circle cx="556.8" cy="566.8" r="5.6"/>
<circle cx="534.5" cy="623.9" r="5.6"/>
<circle cx="533.8" cy="667.8" r="5.6"/>
<circle cx="477.3" cy="492.1" r="5.6"/>
<circle cx="562.7" cy="506.9" r="5.6"/>
<circle cx="554.9" cy="547.6" r="5.6"/>
<circle cx="542.9" cy="549.8" r="5.6"/>
<circle cx="527.8" cy="536.7" r="5.6"/>
<circle cx="500.9" cy="622.7" r="5.6"/>
<circle cx="561.4" cy="487.9" r="5.6"/>
<circle cx="514.1" cy="517.7" r="5.6"/>
<circle cx="465.9" cy="476.2" r="5.6"/>
<circle cx="550.6" cy="588.0" r="5.6"/>
<circle cx="503.0" cy="539.4" r="5.6"/>
<circle cx="491.5" cy="559.5" r="5.6"/>
<circle cx="534.2" cy="629.7" r="5.6"/>
<circle cx="527.1" cy="567.6" r="5.6"/>
<circle cx="530.6" cy="579.3" r="5.6"/>
<circle cx="476.5" cy="475.8" r="5.6"/>
<circle cx="534.8" cy="486.3" r="5.6"/>
<circle cx="548.3" cy="612.3" r="5.6"/>
<circle cx="548.0" cy="604.8" r="5.6"/>
<circle cx="532.1" cy="624.0" r="5.6"/>
<circle cx="508.6" cy="496.7" r="5.6"/>
<circle cx="447.4" cy="452.5" r="5.6"/>
<circle cx="436.6" cy="480.2" r="5.6"/>
<circle cx="554.7" cy="502.6" r="5.6"/>
<circle cx="529.8" cy="585.2" r="5.6"/>
<circle cx="489.0" cy="486.4" r="5.6"/>
<circle cx="566.4" cy="515.7" r="5.6"/>
<circle cx="543.7" cy="645.9" r="5.6"/>
<circle cx="520.4" cy="628.5" r="5.6"/>
<circle cx="507.5" cy="569.4" r="5.6"/>
<circle cx="473.9" cy="537.2" r="5.6"/>
<circle cx="536.6" cy="634.4" r="5.6"/>
<circle cx="535.9" cy="615.6" r="5.6"/>
<circle cx="508.2" cy="663.6" r="5.6"/>
<circle cx="558.1" cy="677.0" r="5.6"/>
<circle cx="559.0" cy="527.0" r="5.6"/>
<circle cx="559.3" cy="640.7" r="5.6"/>
<circle cx="546.7" cy="580.1" r="5.6"/>
<circle cx="515.4" cy="471.4" r="5.6"/>
<circle cx="514.6" cy="499.4" r="5.6"/>
<circle cx="510.7" cy="658.6" r="5.6"/>
<circle cx="522.1" cy="638.3" r="5.6"/>
<circle cx="517.9" cy="665.5" r="5.6"/>
<circle cx="568.7" cy="556.0" r="5.6"/>
<circle cx="567.9" cy="676.7" r="5.6"/>
<circle cx="567.9" cy="547.8" r="5.6"/>
<circle cx="514.9" cy="631.4" r="5.6"/>
<circle cx="513.3" cy="593.3" r="5.6"/>
<circle cx="558.3" cy="565.1" r="5.6"/>
<circle cx="430.4" cy="522.0" r="5.6"/>
<circle cx="474.3" cy="540.8" r="5.6"/>
<circle cx="524.5" cy="505.2" r="5.6"/>
<circle cx="553.7" cy="612.7" r="5.6"/>
<circle cx="559.2" cy="673.5" r="5.6"/>
<circle cx="558.6" cy="660.0" r="5.6"/>
<circle cx="558.8" cy="618.8" r="5.6"/>
<circle cx="565.4" cy="584.9" r="5.6"/>
<circle cx="561.5" cy="571.5" r="5.6"/>
<circle cx="562.3" cy="455.6" r="5.6"/>
<circle cx="549.5" cy="632.2" r="5.6"/>
<circle cx="531.8" cy="598.4" r="5.6"/>
<circle cx="530.3" cy="479.2" r="5.6"/>
<circle cx="529.2" cy="638.3" r="5.6"/>
<circle cx="541.0" cy="549.3" r="5.6"/>
<circle cx="524.0" cy="612.7" r="5.6"/>
<circle cx="559.0" cy="588.0" r="5.6"/>
<circle cx="535.6" cy="564.7" r="5.6"/>
<circle cx="516.5" cy="559.2" r="5.6"/>
<circle cx="549.5" cy="487.7" r="5.6"/>
<circle cx="545.8" cy="600.4" r="5.6"/>
<circle cx="568.4" cy="640.9" r="5.6"/>
<circle cx="540.7" cy="634.6" r="5.6"/>
<circle cx="551.4" cy="679.8" r="5.6"/>
<circle cx="550.4" cy="606.9" r="5.6"/>
<circle cx="567.7" cy="602.7" r="5.6"/>
<circle cx="450.5" cy="525.6" r="5.6"/>
<circle cx="458.6" cy="543.6" r="5.6"/>
<circle cx="512.6" cy="517.5" r="5.6"/>
<circle cx="519.8" cy="580.5" r="5.6"/>
<circle cx="546.2" cy="636.5" r="5.6"/>
<circle cx="553.1" cy="581.2" r="5.6"/>
<circle cx="537.3" cy="612.3" r="5.6"/>
<circle cx="566.8" cy="613.6" r="5.6"/>
<circle cx="445.2" cy="455.2" r="5.6"/>
<circle cx="527.6" cy="625.4" r="5.6"/>
<circle cx="561.8" cy="566.6" r="5.6"/>
<circle cx="564.8" cy="687.8" r="5.6"/>
<circle cx="512.0" cy="657.1" r="5.6"/>
<circle cx="562.6" cy="623.1" r="5.6"/>
<circle cx="527.5" cy="604.6" r="5.6"/>
<circle cx="456.9" cy="549.6" r="5.6"/>
<circle cx="507.5" cy="475.4" r="5.6"/>
<circle cx="560.3" cy="585.7" r="5.6"/>
<circle cx="444.0" cy="456.0" r="5.6"/>
<circle cx="563.1" cy="462.2" r="5.6"/>
<circle cx="531.3" cy="498.5" r="5.6"/>
<circle cx="551.9" cy="659.7" r="5.6"/>
<circle cx="545.2" cy="600.5" r="5.6"/>
<circle cx="519.1" cy="566.6" r="5.6"/>
<circle cx="558.6" cy="629.1" r="5.6"/>
<circle cx="522.4" cy="541.9" r="5.6"/>
<circle cx="543.4" cy="606.1" r="5.6"/>
<circle cx="517.7" cy="496.3" r="5.6"/>
<circle cx="536.1" cy="550.1" r="5.6"/>
<circle cx="529.6" cy="549.0" r="5.6"/>
<circle cx="548.7" cy="651.1" r="5.6"/>
<circle cx="494.2" cy="571.6" r="5.6"/>
<circle cx="506.9" cy="662.6" r="5.6"/>
<circle cx="429.9" cy="482.9" r="5.6"/>
<circle cx="542.1" cy="684.8" r="5.6"/>
<circle cx="476.8" cy="479.4" r="5.6"/>
<circle cx="551.0" cy="652.1" r="5.6"/>
<circle cx="538.3" cy="674.9" r="5.6"/>
<circle cx="450.1" cy="470.9" r="5.6"/>
<circle cx="504.9" cy="589.6" r="5.6"/>
<circle cx="544.8" cy="657.2" r="5.6"/>
<circle cx="505.5" cy="532.4" r="5.6"/>
<circle cx="560.6" cy="588.1" r="5.6"/>
<circle cx="556.9" cy="661.7" r="5.6"/>
<circle cx="506.5" cy="622.8" r="5.6"/>
<circle cx="524.6" cy="485.5" r="5.6"/>
<circle cx="498.4" cy="496.8" r="5.6"/>
<circle cx="487.5" cy="514.0" r="5.6"/>
<circle cx="555.9" cy="660.2" r="5.6"/>
<circle cx="526.8" cy="624.4" r="5.6"/>
<circle cx="554.1" cy="612.7" r="5.6"/>
<circle cx="558.2" cy="517.6" r="5.6"/>
<circle cx="503.7" cy="600.1" r="5.6"/>
<circle cx="544.1" cy="638.9" r="5.6"/>
<circle cx="438.9" cy="485.4" r="5.6"/>
<circle cx="553.9" cy="646.1" r="5.6"/>
<circle cx="567.4" cy="536.1" r="5.6"/>
<circle cx="553.0" cy="675.0" r="5.6"/>
<circle cx="516.6" cy="649.5" r="5.6"/>
<circle cx="564.5" cy="632.4" r="5.6"/>
<circle cx="538.7" cy="650.5" r="5.6"/>
<circle cx="519.8" cy="546.9" r="5.6"/>
<circle cx="521.5" cy="586.6" r="5.6"/>
<circle cx="549.9" cy="651.5" r="5.6"/>
<circle cx="507.5" cy="484.7" r="5.6"/>
<circle cx="568.5" cy="469.1" r="5.6"/>
<circle cx="510.6" cy="470.8" r="5.6"/>
<circle cx="492.6" cy="481.3" r="5.6"/>
<circle cx="559.4" cy="525.0" r="5.6"/>
<circle cx="558.0" cy="612.1" r="5.6"/>
<circle cx="506.5" cy="594.4" r="5.6"/>
<circle cx="547.2" cy="612.9" r="5.6"/>
<circle cx="480.5" cy="475.6" r="5.6"/>
<circle cx="564.8" cy="554.1" r="5.6"/>
<circle cx="546.7" cy="582.6" r="5.6"/>
<circle cx="474.7" cy="489.0" r="5.6"/>
<circle cx="525.0" cy="623.3" r="5.6"/>
<circle cx="500.4" cy="485.2" r="5.6"/>
<circle cx="513.7" cy="658.2" r="5.6"/>
<circle cx="517.3" cy="662.5" r="5.6"/>
<circle cx="546.7" cy="620.0" r="5.6"/>
<circle cx="544.2" cy="532.8" r="5.6"/>
<circle cx="564.1" cy="543.8" r="5.6"/>
<circle cx="546.0" cy="610.2" r="5.6"/>
<circle cx="555.8" cy="652.1" r="5.6"/>
<circle cx="447.6" cy="519.7" r="5.6"/>
<circle cx="428.1" cy="511.1" r="5.6"/>
<circle cx="535.1" cy="627.5" r="5.6"/>
<circle cx="454.9" cy="562.6" r="5.6"/>
<circle cx="563.6" cy="656.1" r="5.6"/>
</g>
<g fill="#d2dae2" stroke="#d2dae2" fill-opacity="0.6" stroke-opacity="0.6" stroke-width="2.8">
<circle cx="573.5" cy="512.0" r="5.6"/>
<circle cx="573.8" cy="518.0" r="5.6"/>
<circle cx="574.1" cy="530.0" r="5.6"/>
<circle cx="572.1" cy="539.0" r="5.6"/>
<circle cx="574.1" cy="544.0" r="5.6"/>
<circle cx="571.2" cy="554.0" r="5.6"/>
<circle cx="572.4" cy="580.0" r="5.6"/>
<circle cx="574.3" cy="594.0" r="5.6"/>
<circle cx="573.5" cy="595.0" r="5.6"/>
<circle cx="572.5" cy="607.0" r="5.6"/>
<circle cx="574.3" cy="613.0" r="5.6"/>
<circle cx="571.0" cy="614.0" r="5.6"/>
<circle cx="573.4" cy="616.0" r="5.6"/>
<circle cx="571.5" cy="625.0" r="5.6"/>
<circle cx="572.6" cy="634.0" r="5.6"/>
<circle cx="573.7" cy="643.0" r="5.6"/>
<circle cx="573.0" cy="647.0" r="5.6"/>
<circle cx="573.4" cy="659.0" r="5.6"/>
<circle cx="573.7" cy="674.0" r="5.6"/>
</g>
<polygon fill="#ff4757" points="746.0,146.0 765.8,146.0 776.0,150.0 777.0,165.0 777.6,180.0 778.0,190.0 782.0,200.0 786.0,210.0 790.0,230.0 800.0,245.0 812.0,255.0 820.0,268.0 814.0,280.0 802.0,290.0 796.0,300.0 794.0,400.0 791.0,470.0 784.0,550.0 779.0,600.0 771.0,650.0 759.0,690.0 756.0,697.0 756.0,699.0 746.0,699.0"/>
<g fill="#ff4757" stroke="#ff4757" fill-opacity="0.6" stroke-opacity="0.6" stroke-width="2.8">
<circle cx="773.3" cy="55.5" r="5.6"/>
<circle cx="776.6" cy="55.5" r="5.6"/>
<circle cx="779.6" cy="55.5" r="5.6"/>
<circle cx="952.3" cy="55.5" r="5.6"/>
<circle cx="944.8" cy="86.5" r="5.6"/>
<circle cx="752.5" cy="86.5" r="5.6"/>
<circle cx="766.7" cy="81.5" r="5.6"/>
<circle cx="775.1" cy="86.5" r="5.6"/>
<circle cx="776.6" cy="92.5" r="5.6"/>
<circle cx="782.0" cy="100.6" r="5.6"/>
<circle cx="786.5" cy="105.6" r="5.6"/>
<circle cx="790.0" cy="110.6" r="5.6"/>
<circle cx="800.6" cy="103.6" r="5.6"/>
<circle cx="812.3" cy="104.4" r="5.6"/>
<circle cx="754.7" cy="101.1" r="5.6"/>
<circle cx="773.8" cy="111.8" r="5.6"/>
<circle cx="775.1" cy="120.5" r="5.6"/>
<circle cx="822.2" cy="114.5" r="5.6"/>
<circle cx="924.0" cy="111.6" r="5.6"/>
<circle cx="849.5" cy="123.5" r="5.6"/>
<circle cx="846.1" cy="132.7" r="5.6"/>
<circle cx="891.0" cy="127.7" r="5.6"/>
<circle cx="911.1" cy="127.2" r="5.6"/>
<circle cx="915.3" cy="123.5" r="5.6"/>
<circle cx="962.7" cy="132.2" r="5.6"/>
<circle cx="935.1" cy="140.6" r="5.6"/>
<circle cx="753.5" cy="123.0" r="5.6"/>
<circle cx="761.7" cy="124.2" r="5.6"/>
<circle cx="779.6" cy="130.4" r="5.6"/>
<circle cx="792.5" cy="128.4" r="5.6"/>
<circle cx="808.6" cy="130.9" r="5.6"/>
<circle cx="811.8" cy="135.4" r="5.6"/>
<circle cx="823.0" cy="132.4" r="5.6"/>
<circle cx="821.2" cy="151.5" r="5.6"/>
<circle cx="845.3" cy="157.7" r="5.6"/>
<circle cx="882.0" cy="155.7" r="5.6"/>
<circle cx="900.9" cy="161.9" r="5.6"/>
<circle cx="920.7" cy="153.0" r="5.6"/>
<circle cx="962.7" cy="155.5" r="5.6"/>
<circle cx="1009.6" cy="152.0" r="5.6"/>
<circle cx="816.3" cy="160.2" r="5.6"/>
<circle cx="817.5" cy="168.4" r="5.6"/>
<circle cx="829.7" cy="171.9" r="5.6"/>
<circle cx="820.5" cy="179.3" r="5.6"/>
<circle cx="844.1" cy="169.6" r="5.6"/>
<circle cx="851.5" cy="175.8" r="5.6"/>
<circle cx="863.2" cy="170.1" r="5.6"/>
<circle cx="873.3" cy="166.4" r="5.6"/>
<circle cx="886.7" cy="170.4" r="5.6"/>
<circle cx="897.4" cy="176.3" r="5.6"/>
<circle cx="908.6" cy="182.5" r="5.6"/>
<circle cx="919.0" cy="168.4" r="5.6"/>
<circle cx="928.4" cy="170.1" r="5.6"/>
<circle cx="937.9" cy="171.4" r="5.6"/>
<circle cx="835.4" cy="181.3" r="5.6"/>
<circle cx="837.9" cy="190.0" r="5.6"/>
<circle cx="846.6" cy="191.2" r="5.6"/>
<circle cx="854.0" cy="190.0" r="5.6"/>
<circle cx="860.2" cy="188.2" r="5.6"/>
<circle cx="871.4" cy="183.8" r="5.6"/>
<circle cx="881.3" cy="187.5" r="5.6"/>
<circle cx="872.6" cy="191.2" r="5.6"/>
<circle cx="898.7" cy="188.7" r="5.6"/>
<circle cx="901.1" cy="192.5" r="5.6"/>
<circle cx="954.5" cy="190.0" r="5.6"/>
<circle cx="953.3" cy="193.0" r="5.6"/>
<circle cx="810.6" cy="192.0" r="5.6"/>
<circle cx="859.0" cy="198.7" r="5.6"/>
<circle cx="871.4" cy="204.9" r="5.6"/>
<circle cx="881.3" cy="197.4" r="5.6"/>
<circle cx="888.7" cy="198.7" r="5.6"/>
<circle cx="894.9" cy="203.6" r="5.6"/>
<circle cx="921.0" cy="203.1" r="5.6"/>
<circle cx="826.7" cy="204.9" r="5.6"/>
<circle cx="835.4" cy="201.1" r="5.6"/>
<circle cx="844.1" cy="210.6" r="5.6"/>
<circle cx="881.3" cy="209.8" r="5.6"/>
<circle cx="860.2" cy="219.8" r="5.6"/>
<circle cx="873.8" cy="218.5" r="5.6"/>
<circle cx="888.7" cy="219.8" r="5.6"/>
<circle cx="892.5" cy="221.0" r="5.6"/>
<circle cx="907.3" cy="222.2" r="5.6"/>
<circle cx="893.7" cy="229.2" r="5.6"/>
<circle cx="907.3" cy="231.7" r="5.6"/>
<circle cx="949.3" cy="228.4" r="5.6"/>
<circle cx="836.6" cy="217.3" r="5.6"/>
<circle cx="841.6" cy="223.5" r="5.6"/>
<circle cx="847.8" cy="226.0" r="5.6"/>
<circle cx="854.0" cy="230.9" r="5.6"/>
<circle cx="863.9" cy="229.7" r="5.6"/>
<circle cx="875.1" cy="228.4" r="5.6"/>
<circle cx="876.3" cy="238.4" r="5.6"/>
<circle cx="881.3" cy="237.9" r="5.6"/>
<circle cx="856.0" cy="239.6" r="5.6"/>
<circle cx="827.9" cy="222.2" r="5.6"/>
<circle cx="819.3" cy="223.5" r="5.6"/>
<circle cx="814.3" cy="202.4" r="5.6"/>
<circle cx="911.1" cy="245.1" r="5.6"/>
<circle cx="1036.9" cy="138.6" r="5.6"/>
<circle cx="911.1" cy="249.5" r="5.6"/>
<circle cx="907.3" cy="251.2" r="5.6"/>
<circle cx="861.4" cy="254.4" r="5.6"/>
<circle cx="866.4" cy="261.9" r="5.6"/>
<circle cx="883.3" cy="268.1" r="5.6"/>
<circle cx="900.4" cy="279.7" r="5.6"/>
<circle cx="966.4" cy="310.3" r="5.6"/>
<circle cx="907.3" cy="318.4" r="5.6"/>
<circle cx="891.2" cy="317.7" r="5.6"/>
<circle cx="883.8" cy="322.7" r="5.6"/>
<circle cx="873.8" cy="317.7" r="5.6"/>
<circle cx="866.4" cy="318.7" r="5.6"/>
<circle cx="868.9" cy="318.2" r="5.6"/>
<circle cx="907.8" cy="348.7" r="5.6"/>
<circle cx="868.1" cy="357.9" r="5.6"/>
<circle cx="867.6" cy="356.7" r="5.6"/>
<circle cx="859.7" cy="362.9" r="5.6"/>
<circle cx="860.2" cy="368.3" r="5.6"/>
<circle cx="901.6" cy="379.2" r="5.6"/>
<circle cx="865.7" cy="384.7" r="5.6"/>
<circle cx="870.9" cy="394.1" r="5.6"/>
<circle cx="857.2" cy="410.0" r="5.6"/>
<circle cx="850.3" cy="423.2" r="5.6"/>
<circle cx="880.5" cy="435.1" r="5.6"/>
<circle cx="899.7" cy="431.8" r="5.6"/>
<circle cx="963.7" cy="432.1" r="5.6"/>
<circle cx="915.0" cy="451.7" r="5.6"/>
<circle cx="849.0" cy="447.2" r="5.6"/>
<circle cx="850.3" cy="448.5" r="5.6"/>
<circle cx="819.3" cy="326.9" r="5.6"/>
<circle cx="821.7" cy="330.6" r="5.6"/>
<circle cx="834.1" cy="336.8" r="5.6"/>
<circle cx="839.1" cy="331.8" r="5.6"/>
<circle cx="851.5" cy="330.6" r="5.6"/>
<circle cx="855.2" cy="328.1" r="5.6"/>
<circle cx="831.7" cy="315.7" r="5.6"/>
<circle cx="842.8" cy="318.9" r="5.6"/>
<circle cx="847.8" cy="319.4" r="5.6"/>
<circle cx="816.8" cy="351.7" r="5.6"/>
<circle cx="824.2" cy="349.2" r="5.6"/>
<circle cx="826.7" cy="348.0" r="5.6"/>
<circle cx="832.9" cy="364.1" r="5.6"/>
<circle cx="834.1" cy="366.6" r="5.6"/>
<circle cx="816.8" cy="368.6" r="5.6"/>
<circle cx="827.9" cy="371.6" r="5.6"/>
<circle cx="812.6" cy="382.0" r="5.6"/>
<circle cx="830.9" cy="386.4" r="5.6"/>
<circle cx="811.8" cy="393.9" r="5.6"/>
<circle cx="829.2" cy="395.1" r="5.6"/>
<circle cx="835.4" cy="396.4" r="5.6"/>
<circle cx="825.5" cy="401.8" r="5.6"/>
<circle cx="840.3" cy="403.8" r="5.6"/>
<circle cx="813.8" cy="406.8" r="5.6"/>
<circle cx="819.3" cy="418.7" r="5.6"/>
<circle cx="824.2" cy="417.5" r="5.6"/>
<circle cx="835.4" cy="424.9" r="5.6"/>
<circle cx="836.6" cy="428.1" r="5.6"/>
<circle cx="815.5" cy="429.9" r="5.6"/>
<circle cx="819.3" cy="436.1" r="5.6"/>
<circle cx="835.4" cy="442.3" r="5.6"/>
<circle cx="836.6" cy="451.0" r="5.6"/>
<circle cx="819.3" cy="453.4" r="5.6"/>
<circle cx="826.7" cy="458.4" r="5.6"/>
<circle cx="811.8" cy="465.8" r="5.6"/>
<circle cx="836.6" cy="465.8" r="5.6"/>
<circle cx="794.4" cy="455.9" r="5.6"/>
<circle cx="799.4" cy="463.4" r="5.6"/>
<circle cx="829.2" cy="259.9" r="5.6"/>
<circle cx="844.1" cy="259.9" r="5.6"/>
<circle cx="849.0" cy="268.6" r="5.6"/>
<circle cx="855.2" cy="269.8" r="5.6"/>
<circle cx="863.9" cy="272.3" r="5.6"/>
<circle cx="836.6" cy="250.0" r="5.6"/>
<circle cx="854.0" cy="245.0" r="5.6"/>
<circle cx="1159.3" cy="327.4" r="5.6"/>
<circle cx="966.9" cy="486.6" r="5.6"/>
<circle cx="885.0" cy="484.9" r="5.6"/>
<circle cx="868.1" cy="496.8" r="5.6"/>
<circle cx="937.9" cy="525.1" r="5.6"/>
<circle cx="982.3" cy="539.5" r="5.6"/>
<circle cx="888.7" cy="510.9" r="5.6"/>
<circle cx="901.1" cy="511.7" r="5.6"/>
<circle cx="875.8" cy="518.6" r="5.6"/>
<circle cx="855.2" cy="514.7" r="5.6"/>
<circle cx="861.9" cy="525.1" r="5.6"/>
<circle cx="874.3" cy="536.0" r="5.6"/>
<circle cx="863.4" cy="542.7" r="5.6"/>
<circle cx="868.1" cy="553.1" r="5.6"/>
<circle cx="832.9" cy="471.2" r="5.6"/>
<circle cx="841.6" cy="479.9" r="5.6"/>
<circle cx="834.6" cy="486.9" r="5.6"/>
<circle cx="847.0" cy="488.6" r="5.6"/>
<circle cx="822.2" cy="491.8" r="5.6"/>
<circle cx="829.2" cy="508.5" r="5.6"/>
<circle cx="819.3" cy="515.4" r="5.6"/>
<circle cx="840.8" cy="514.7" r="5.6"/>
<circle cx="836.6" cy="521.6" r="5.6"/>
<circle cx="805.6" cy="514.2" r="5.6"/>
<circle cx="805.6" cy="527.1" r="5.6"/>
<circle cx="819.3" cy="529.6" r="5.6"/>
<circle cx="823.0" cy="530.8" r="5.6"/>
<circle cx="825.5" cy="536.5" r="5.6"/>
<circle cx="819.3" cy="540.7" r="5.6"/>
<circle cx="840.3" cy="543.7" r="5.6"/>
<circle cx="845.3" cy="550.6" r="5.6"/>
<circle cx="831.7" cy="549.9" r="5.6"/>
<circle cx="835.4" cy="551.9" r="5.6"/>
<circle cx="815.0" cy="550.1" r="5.6"/>
<circle cx="805.6" cy="558.1" r="5.6"/>
<circle cx="803.1" cy="563.1" r="5.6"/>
<circle cx="821.7" cy="565.5" r="5.6"/>
<circle cx="832.9" cy="563.1" r="5.6"/>
<circle cx="819.3" cy="570.5" r="5.6"/>
<circle cx="831.7" cy="574.7" r="5.6"/>
<circle cx="811.8" cy="579.2" r="5.6"/>
<circle cx="805.6" cy="582.9" r="5.6"/>
<circle cx="826.0" cy="582.4" r="5.6"/>
<circle cx="815.5" cy="589.9" r="5.6"/>
<circle cx="822.2" cy="593.3" r="5.6"/>
<circle cx="816.8" cy="600.8" r="5.6"/>
<circle cx="803.9" cy="607.0" r="5.6"/>
<circle cx="801.9" cy="616.4" r="5.6"/>
<circle cx="816.3" cy="611.9" r="5.6"/>
<circle cx="814.3" cy="620.9" r="5.6"/>
<circle cx="821.2" cy="619.4" r="5.6"/>
<circle cx="834.9" cy="615.2" r="5.6"/>
<circle cx="860.9" cy="584.1" r="5.6"/>
<circle cx="885.8" cy="573.7" r="5.6"/>
<circle cx="884.3" cy="583.6" r="5.6"/>
<circle cx="929.7" cy="591.1" r="5.6"/>
<circle cx="932.9" cy="589.1" r="5.6"/>
<circle cx="886.3" cy="616.2" r="5.6"/>
<circle cx="911.3" cy="642.0" r="5.6"/>
<circle cx="804.4" cy="632.5" r="5.6"/>
<circle cx="799.4" cy="633.8" r="5.6"/>
<circle cx="799.9" cy="646.9" r="5.6"/>
<circle cx="803.1" cy="654.9" r="5.6"/>
<circle cx="812.3" cy="655.6" r="5.6"/>
<circle cx="821.7" cy="659.8" r="5.6"/>
<circle cx="796.9" cy="666.0" r="5.6"/>
<circle cx="795.7" cy="671.0" r="5.6"/>
<circle cx="773.3" cy="674.7" r="5.6"/>
<circle cx="784.0" cy="680.9" r="5.6"/>
<circle cx="777.1" cy="688.9" r="5.6"/>
<circle cx="787.0" cy="689.6" r="5.6"/>
<circle cx="867.6" cy="685.1" r="5.6"/>
<circle cx="749.5" cy="126.9" r="5.6"/>
<circle cx="758.4" cy="132.7" r="5.6"/>
<circle cx="760.0" cy="133.6" r="5.6"/>
<circle cx="771.2" cy="135.3" r="5.6"/>
<circle cx="755.6" cy="137.6" r="5.6"/>
<circle cx="759.0" cy="137.9" r="5.6"/>
<circle cx="751.2" cy="137.8" r="5.6"/>
<circle cx="749.5" cy="137.2" r="5.6"/>
<circle cx="761.2" cy="138.5" r="5.6"/>
<circle cx="763.1" cy="139.0" r="5.6"/>
<circle cx="781.9" cy="138.2" r="5.6"/>
<circle cx="749.5" cy="139.8" r="5.6"/>
<circle cx="752.4" cy="140.7" r="5.6"/>
<circle cx="766.9" cy="140.5" r="5.6"/>
<circle cx="749.5" cy="141.5" r="5.6"/>
<circle cx="753.4" cy="141.4" r="5.6"/>
<circle cx="768.9" cy="141.7" r="5.6"/>
<circle cx="762.5" cy="141.7" r="5.6"/>
<circle cx="749.5" cy="141.1" r="5.6"/>
<circle cx="753.9" cy="141.8" r="5.6"/>
<circle cx="761.3" cy="141.8" r="5.6"/>
<circle cx="749.5" cy="142.9" r="5.6"/>
<circle cx="750.7" cy="142.3" r="5.6"/>
<circle cx="749.5" cy="142.6" r="5.6"/>
<circle cx="749.5" cy="142.8" r="5.6"/>
<circle cx="751.9" cy="142.7" r="5.6"/>
<circle cx="778.9" cy="142.7" r="5.6"/>
<circle cx="754.6" cy="142.6" r="5.6"/>
<circle cx="772.9" cy="142.7" r="5.6"/>
<circle cx="775.3" cy="143.6" r="5.6"/>
<circle cx="776.1" cy="144.2" r="5.6"/>
<circle cx="749.5" cy="144.3" r="5.6"/>
<circle cx="752.7" cy="144.9" r="5.6"/>
<circle cx="763.7" cy="145.9" r="5.6"/>
<circle cx="749.5" cy="145.5" r="5.6"/>
<circle cx="750.9" cy="145.3" r="5.6"/>
<circle cx="759.7" cy="146.2" r="5.6"/>
<circle cx="762.9" cy="146.7" r="5.6"/>
<circle cx="749.5" cy="146.6" r="5.6"/>
<circle cx="750.2" cy="146.8" r="5.6"/>
<circle cx="751.7" cy="146.7" r="5.6"/>
<circle cx="764.1" cy="147.3" r="5.6"/>
<circle cx="766.7" cy="147.4" r="5.6"/>
<circle cx="765.5" cy="147.7" r="5.6"/>
<circle cx="785.3" cy="147.4" r="5.6"/>
<circle cx="752.9" cy="148.0" r="5.6"/>
<circle cx="757.0" cy="147.4" r="5.6"/>
<circle cx="763.5" cy="147.3" r="5.6"/>
<circle cx="749.5" cy="148.5" r="5.6"/>
<circle cx="750.8" cy="148.0" r="5.6"/>
<circle cx="783.5" cy="148.8" r="5.6"/>
<circle cx="760.8" cy="148.7" r="5.6"/>
<circle cx="762.3" cy="148.5" r="5.6"/>
<circle cx="749.5" cy="148.3" r="5.6"/>
<circle cx="756.7" cy="148.6" r="5.6"/>
<circle cx="752.0" cy="148.1" r="5.6"/>
<circle cx="752.8" cy="148.2" r="5.6"/>
<circle cx="782.6" cy="148.2" r="5.6"/>
<circle cx="753.9" cy="148.5" r="5.6"/>
<circle cx="749.5" cy="150.0" r="5.6"/>
<circle cx="749.6" cy="149.7" r="5.6"/>
<circle cx="756.1" cy="149.3" r="5.6"/>
<circle cx="753.6" cy="149.5" r="5.6"/>
<circle cx="753.4" cy="149.2" r="5.6"/>
<circle cx="771.5" cy="150.1" r="5.6"/>
<circle cx="760.8" cy="150.5" r="5.6"/>
<circle cx="794.5" cy="150.2" r="5.6"/>
<circle cx="776.7" cy="150.1" r="5.6"/>
<circle cx="768.4" cy="151.4" r="5.6"/>
<circle cx="791.5" cy="151.0" r="5.6"/>
<circle cx="749.5" cy="151.6" r="5.6"/>
<circle cx="751.1" cy="151.4" r="5.6"/>
<circle cx="779.3" cy="151.3" r="5.6"/>
<circle cx="750.8" cy="152.1" r="5.6"/>
<circle cx="750.5" cy="152.2" r="5.6"/>
<circle cx="779.1" cy="152.4" r="5.6"/>
<circle cx="749.5" cy="152.6" r="5.6"/>
<circle cx="755.5" cy="152.0" r="5.6"/>
<circle cx="790.7" cy="153.5" r="5.6"/>
<circle cx="782.8" cy="153.7" r="5.6"/>
<circle cx="789.0" cy="154.4" r="5.6"/>
<circle cx="776.0" cy="154.8" r="5.6"/>
<circle cx="769.5" cy="155.1" r="5.6"/>
<circle cx="772.3" cy="155.3" r="5.6"/>
<circle cx="776.2" cy="155.2" r="5.6"/>
<circle cx="796.5" cy="156.8" r="5.6"/>
<circle cx="787.2" cy="156.9" r="5.6"/>
<circle cx="804.3" cy="157.0" r="5.6"/>
<circle cx="777.0" cy="158.4" r="5.6"/>
<circle cx="793.0" cy="158.8" r="5.6"/>
<circle cx="776.3" cy="159.1" r="5.6"/>
<circle cx="775.4" cy="160.2" r="5.6"/>
<circle cx="794.2" cy="161.2" r="5.6"/>
<circle cx="784.8" cy="161.3" r="5.6"/>
<circle cx="771.7" cy="162.6" r="5.6"/>
<circle cx="788.9" cy="163.0" r="5.6"/>
<circle cx="769.9" cy="163.2" r="5.6"/>
<circle cx="782.6" cy="166.3" r="5.6"/>
<circle cx="777.0" cy="168.1" r="5.6"/>
<circle cx="770.3" cy="169.6" r="5.6"/>
<circle cx="774.3" cy="169.3" r="5.6"/>
<circle cx="769.6" cy="170.3" r="5.6"/>
<circle cx="770.3" cy="170.5" r="5.6"/>
<circle cx="798.0" cy="170.1" r="5.6"/>
<circle cx="806.4" cy="173.8" r="5.6"/>
<circle cx="783.1" cy="174.3" r="5.6"/>
<circle cx="777.6" cy="174.8" r="5.6"/>
<circle cx="772.7" cy="174.2" r="5.6"/>
<circle cx="793.2" cy="174.5" r="5.6"/>
<circle cx="797.0" cy="176.5" r="5.6"/>
<circle cx="789.2" cy="177.3" r="5.6"/>
<circle cx="771.1" cy="177.6" r="5.6"/>
<circle cx="770.2" cy="177.5" r="5.6"/>
<circle cx="782.1" cy="177.8" r="5.6"/>
<circle cx="794.4" cy="178.5" r="5.6"/>
<circle cx="774.3" cy="179.0" r="5.6"/>
<circle cx="791.8" cy="179.7" r="5.6"/>
<circle cx="772.7" cy="180.6" r="5.6"/>
<circle cx="771.8" cy="181.5" r="5.6"/>
<circle cx="775.0" cy="181.7" r="5.6"/>
<circle cx="779.2" cy="181.7" r="5.6"/>
<circle cx="784.0" cy="182.4" r="5.6"/>
<circle cx="771.1" cy="182.5" r="5.6"/>
<circle cx="792.9" cy="182.8" r="5.6"/>
<circle cx="771.0" cy="185.7" r="5.6"/>
<circle cx="782.3" cy="185.8" r="5.6"/>
<circle cx="776.7" cy="187.0" r="5.6"/>
<circle cx="790.2" cy="187.4" r="5.6"/>
<circle cx="793.8" cy="188.9" r="5.6"/>
<circle cx="776.5" cy="189.8" r="5.6"/>
<circle cx="781.1" cy="190.2" r="5.6"/>
<circle cx="785.9" cy="190.3" r="5.6"/>
<circle cx="780.8" cy="190.0" r="5.6"/>
<circle cx="783.4" cy="191.6" r="5.6"/>
<circle cx="777.5" cy="193.2" r="5.6"/>
<circle cx="781.9" cy="193.1" r="5.6"/>
<circle cx="779.5" cy="194.1" r="5.6"/>
<circle cx="798.0" cy="195.0" r="5.6"/>
<circle cx="780.3" cy="195.2" r="5.6"/>
<circle cx="779.3" cy="195.9" r="5.6"/>
<circle cx="786.2" cy="195.5" r="5.6"/>
<circle cx="780.4" cy="196.5" r="5.6"/>
<circle cx="773.8" cy="196.4" r="5.6"/>
<circle cx="777.1" cy="197.8" r="5.6"/>
<circle cx="778.8" cy="200.9" r="5.6"/>
<circle cx="777.7" cy="201.9" r="5.6"/>
<circle cx="779.6" cy="201.4" r="5.6"/>
<circle cx="806.3" cy="201.1" r="5.6"/>
<circle cx="787.8" cy="202.8" r="5.6"/>
<circle cx="781.5" cy="202.1" r="5.6"/>
<circle cx="776.7" cy="202.1" r="5.6"/>
<circle cx="782.1" cy="203.4" r="5.6"/>
<circle cx="781.9" cy="203.5" r="5.6"/>
<circle cx="795.7" cy="204.5" r="5.6"/>
<circle cx="778.4" cy="206.0" r="5.6"/>
<circle cx="787.3" cy="205.3" r="5.6"/>
<circle cx="819.1" cy="209.6" r="5.6"/>
<circle cx="779.4" cy="211.5" r="5.6"/>
<circle cx="793.5" cy="212.7" r="5.6"/>
<circle cx="781.0" cy="212.6" r="5.6"/>
<circle cx="778.9" cy="214.0" r="5.6"/>
<circle cx="815.4" cy="215.7" r="5.6"/>
<circle cx="785.9" cy="215.8" r="5.6"/>
<circle cx="796.4" cy="216.2" r="5.6"/>
<circle cx="795.5" cy="216.9" r="5.6"/>
<circle cx="790.3" cy="217.8" r="5.6"/>
<circle cx="792.5" cy="217.1" r="5.6"/>
<circle cx="780.2" cy="217.3" r="5.6"/>
<circle cx="800.9" cy="217.2" r="5.6"/>
<circle cx="784.0" cy="218.3" r="5.6"/>
<circle cx="780.3" cy="218.7" r="5.6"/>
<circle cx="785.2" cy="219.1" r="5.6"/>
<circle cx="784.5" cy="220.7" r="5.6"/>
<circle cx="785.5" cy="221.6" r="5.6"/>
<circle cx="780.5" cy="222.0" r="5.6"/>
<circle cx="794.1" cy="223.7" r="5.6"/>
<circle cx="797.5" cy="224.0" r="5.6"/>
<circle cx="786.2" cy="223.4" r="5.6"/>
<circle cx="799.9" cy="223.2" r="5.6"/>
<circle cx="808.3" cy="225.9" r="5.6"/>
<circle cx="785.6" cy="228.0" r="5.6"/>
<circle cx="821.1" cy="228.7" r="5.6"/>
<circle cx="782.2" cy="228.8" r="5.6"/>
<circle cx="804.4" cy="228.9" r="5.6"/>
<circle cx="794.3" cy="228.0" r="5.6"/>
<circle cx="784.9" cy="229.2" r="5.6"/>
<circle cx="803.2" cy="229.1" r="5.6"/>
<circle cx="798.6" cy="230.2" r="5.6"/>
<circle cx="810.6" cy="231.2" r="5.6"/>
<circle cx="786.6" cy="232.3" r="5.6"/>
<circle cx="815.1" cy="232.1" r="5.6"/>
<circle cx="791.7" cy="234.0" r="5.6"/>
<circle cx="792.2" cy="234.5" r="5.6"/>
<circle cx="795.1" cy="234.9" r="5.6"/>
<circle cx="785.6" cy="234.9" r="5.6"/>
<circle cx="790.0" cy="235.3" r="5.6"/>
<circle cx="789.6" cy="235.5" r="5.6"/>
<circle cx="793.9" cy="236.5" r="5.6"/>
<circle cx="807.5" cy="236.7" r="5.6"/>
<circle cx="807.5" cy="237.8" r="5.6"/>
<circle cx="797.6" cy="237.1" r="5.6"/>
<circle cx="790.2" cy="238.3" r="5.6"/>
<circle cx="794.4" cy="239.2" r="5.6"/>
<circle cx="799.1" cy="239.4" r="5.6"/>
<circle cx="788.9" cy="240.2" r="5.6"/>
<circle cx="790.4" cy="240.7" r="5.6"/>
<circle cx="790.7" cy="240.6" r="5.6"/>
<circle cx="793.9" cy="240.5" r="5.6"/>
<circle cx="791.9" cy="241.3" r="5.6"/>
<circle cx="792.1" cy="242.1" r="5.6"/>
<circle cx="795.4" cy="242.6" r="5.6"/>
<circle cx="796.3" cy="243.8" r="5.6"/>
<circle cx="791.9" cy="243.8" r="5.6"/>
<circle cx="816.9" cy="243.8" r="5.6"/>
<circle cx="815.3" cy="245.2" r="5.6"/>
<circle cx="801.9" cy="245.6" r="5.6"/>
<circle cx="809.3" cy="246.1" r="5.6"/>
<circle cx="799.3" cy="246.5" r="5.6"/>
<circle cx="809.1" cy="247.7" r="5.6"/>
<circle cx="830.6" cy="247.5" r="5.6"/>
<circle cx="798.4" cy="248.2" r="5.6"/>
<circle cx="809.1" cy="250.8" r="5.6"/>
<circle cx="803.7" cy="253.6" r="5.6"/>
<circle cx="821.0" cy="254.3" r="5.6"/>
<circle cx="809.1" cy="254.9" r="5.6"/>
<circle cx="805.6" cy="255.7" r="5.6"/>
<circle cx="805.8" cy="255.1" r="5.6"/>
<circle cx="822.6" cy="256.5" r="5.6"/>
<circle cx="809.1" cy="256.5" r="5.6"/>
<circle cx="817.0" cy="257.2" r="5.6"/>
<circle cx="806.4" cy="258.2" r="5.6"/>
<circle cx="811.0" cy="258.6" r="5.6"/>
<circle cx="819.5" cy="259.6" r="5.6"/>
<circle cx="811.1" cy="259.2" r="5.6"/>
<circle cx="820.3" cy="260.0" r="5.6"/>
<circle cx="809.8" cy="260.7" r="5.6"/>
<circle cx="849.1" cy="261.6" r="5.6"/>
<circle cx="836.6" cy="261.9" r="5.6"/>
<circle cx="811.3" cy="262.0" r="5.6"/>
<circle cx="810.2" cy="263.6" r="5.6"/>
<circle cx="810.3" cy="265.7" r="5.6"/>
<circle cx="823.4" cy="265.8" r="5.6"/>
<circle cx="840.7" cy="266.8" r="5.6"/>
<circle cx="812.2" cy="267.0" r="5.6"/>
<circle cx="827.2" cy="268.8" r="5.6"/>
<circle cx="813.2" cy="270.1" r="5.6"/>
<circle cx="812.8" cy="270.1" r="5.6"/>
<circle cx="811.9" cy="271.4" r="5.6"/>
<circle cx="819.2" cy="271.4" r="5.6"/>
<circle cx="810.4" cy="272.8" r="5.6"/>
<circle cx="829.5" cy="272.7" r="5.6"/>
<circle cx="817.6" cy="272.9" r="5.6"/>
<circle cx="846.1" cy="274.0" r="5.6"/>
<circle cx="811.6" cy="274.5" r="5.6"/>
<circle cx="820.2" cy="274.2" r="5.6"/>
<circle cx="816.3" cy="275.1" r="5.6"/>
<circle cx="819.6" cy="275.7" r="5.6"/>
<circle cx="814.1" cy="276.7" r="5.6"/>
<circle cx="808.4" cy="277.3" r="5.6"/>
<circle cx="817.4" cy="277.3" r="5.6"/>
<circle cx="808.8" cy="278.6" r="5.6"/>
<circle cx="811.9" cy="279.3" r="5.6"/>
<circle cx="817.2" cy="281.6" r="5.6"/>
<circle cx="804.1" cy="282.5" r="5.6"/>
<circle cx="802.5" cy="283.8" r="5.6"/>
<circle cx="804.2" cy="284.3" r="5.6"/>
<circle cx="807.0" cy="285.5" r="5.6"/>
<circle cx="812.5" cy="286.2" r="5.6"/>
<circle cx="800.4" cy="287.1" r="5.6"/>
<circle cx="814.0" cy="290.0" r="5.6"/>
<circle cx="800.1" cy="289.1" r="5.6"/>
<circle cx="803.4" cy="289.5" r="5.6"/>
<circle cx="810.3" cy="289.6" r="5.6"/>
<circle cx="799.5" cy="290.5" r="5.6"/>
<circle cx="794.6" cy="292.7" r="5.6"/>
<circle cx="798.6" cy="292.5" r="5.6"/>
<circle cx="809.4" cy="293.6" r="5.6"/>
<circle cx="802.9" cy="294.4" r="5.6"/>
<circle cx="797.8" cy="295.1" r="5.6"/>
<circle cx="802.0" cy="295.4" r="5.6"/>
<circle cx="790.5" cy="298.6" r="5.6"/>
<circle cx="790.7" cy="299.8" r="5.6"/>
<circle cx="798.6" cy="299.1" r="5.6"/>
<circle cx="830.1" cy="301.3" r="5.6"/>
<circle cx="793.8" cy="301.2" r="5.6"/>
<circle cx="820.9" cy="301.6" r="5.6"/>
<circle cx="804.3" cy="302.5" r="5.6"/>
<circle cx="809.8" cy="303.1" r="5.6"/>
<circle cx="791.2" cy="304.1" r="5.6"/>
<circle cx="803.6" cy="304.4" r="5.6"/>
<circle cx="828.0" cy="304.3" r="5.6"/>
<circle cx="813.8" cy="305.5" r="5.6"/>
<circle cx="802.4" cy="308.5" r="5.6"/>
<circle cx="808.8" cy="308.2" r="5.6"/>
<circle cx="790.1" cy="308.3" r="5.6"/>
<circle cx="794.3" cy="308.9" r="5.6"/>
<circle cx="828.5" cy="309.9" r="5.6"/>
<circle cx="790.6" cy="309.4" r="5.6"/>
<circle cx="792.7" cy="309.2" r="5.6"/>
<circle cx="788.6" cy="310.4" r="5.6"/>
<circle cx="807.1" cy="310.3" r="5.6"/>
<circle cx="792.4" cy="310.1" r="5.6"/>
<circle cx="814.4" cy="311.6" r="5.6"/>
<circle cx="792.2" cy="311.9" r="5.6"/>
<circle cx="802.0" cy="312.9" r="5.6"/>
<circle cx="793.5" cy="312.3" r="5.6"/>
<circle cx="794.7" cy="312.0" r="5.6"/>
<circle cx="800.8" cy="313.8" r="5.6"/>
<circle cx="803.6" cy="313.3" r="5.6"/>
<circle cx="797.7" cy="314.8" r="5.6"/>
<circle cx="796.2" cy="316.5" r="5.6"/>
<circle cx="800.6" cy="316.1" r="5.6"/>
<circle cx="807.7" cy="316.6" r="5.6"/>
<circle cx="794.4" cy="317.8" r="5.6"/>
<circle cx="790.5" cy="318.3" r="5.6"/>
<circle cx="805.9" cy="319.5" r="5.6"/>
<circle cx="791.1" cy="320.4" r="5.6"/>
<circle cx="805.1" cy="321.9" r="5.6"/>
<circle cx="823.8" cy="321.6" r="5.6"/>
<circle cx="800.9" cy="322.5" r="5.6"/>
<circle cx="803.3" cy="322.3" r="5.6"/>
<circle cx="830.4" cy="322.3" r="5.6"/>
<circle cx="802.4" cy="323.3" r="5.6"/>
<circle cx="794.5" cy="323.7" r="5.6"/>
<circle cx="799.8" cy="324.8" r="5.6"/>
<circle cx="788.7" cy="324.8" r="5.6"/>
<circle cx="809.1" cy="324.6" r="5.6"/>
<circle cx="818.0" cy="324.7" r="5.6"/>
<circle cx="802.4" cy="326.0" r="5.6"/>
<circle cx="803.0" cy="325.8" r="5.6"/>
<circle cx="788.0" cy="326.1" r="5.6"/>
<circle cx="817.9" cy="327.3" r="5.6"/>
<circle cx="789.5" cy="327.4" r="5.6"/>
<circle cx="807.2" cy="328.4" r="5.6"/>
<circle cx="792.2" cy="328.8" r="5.6"/>
<circle cx="788.6" cy="328.8" r="5.6"/>
<circle cx="806.9" cy="329.0" r="5.6"/>
<circle cx="795.4" cy="331.4" r="5.6"/>
<circle cx="790.0" cy="332.0" r="5.6"/>
<circle cx="808.3" cy="333.9" r="5.6"/>
<circle cx="789.4" cy="333.1" r="5.6"/>
<circle cx="795.3" cy="333.1" r="5.6"/>
<circle cx="799.1" cy="333.9" r="5.6"/>
<circle cx="789.0" cy="334.5" r="5.6"/>
<circle cx="813.0" cy="335.5" r="5.6"/>
<circle cx="802.2" cy="335.0" r="5.6"/>
<circle cx="796.2" cy="335.1" r="5.6"/>
<circle cx="788.3" cy="337.7" r="5.6"/>
<circle cx="822.1" cy="338.7" r="5.6"/>
<circle cx="796.1" cy="339.8" r="5.6"/>
<circle cx="788.8" cy="340.2" r="5.6"/>
<circle cx="826.9" cy="341.7" r="5.6"/>
<circle cx="795.4" cy="343.0" r="5.6"/>
<circle cx="823.4" cy="346.6" r="5.6"/>
<circle cx="822.7" cy="346.4" r="5.6"/>
<circle cx="789.2" cy="346.1" r="5.6"/>
<circle cx="805.5" cy="347.5" r="5.6"/>
<circle cx="798.3" cy="348.6" r="5.6"/>
<circle cx="821.4" cy="349.2" r="5.6"/>
<circle cx="789.4" cy="349.6" r="5.6"/>
<circle cx="802.7" cy="350.1" r="5.6"/>
<circle cx="807.0" cy="351.7" r="5.6"/>
<circle cx="790.5" cy="351.9" r="5.6"/>
<circle cx="799.3" cy="351.6" r="5.6"/>
<circle cx="794.2" cy="352.6" r="5.6"/>
<circle cx="812.4" cy="352.8" r="5.6"/>
<circle cx="787.6" cy="353.6" r="5.6"/>
<circle cx="800.1" cy="354.1" r="5.6"/>
<circle cx="789.4" cy="355.6" r="5.6"/>
<circle cx="787.7" cy="355.8" r="5.6"/>
<circle cx="790.0" cy="355.1" r="5.6"/>
<circle cx="794.1" cy="357.2" r="5.6"/>
<circle cx="789.8" cy="358.8" r="5.6"/>
<circle cx="828.8" cy="359.4" r="5.6"/>
<circle cx="809.1" cy="360.5" r="5.6"/>
<circle cx="790.6" cy="360.5" r="5.6"/>
<circle cx="800.0" cy="361.6" r="5.6"/>
<circle cx="790.2" cy="362.7" r="5.6"/>
<circle cx="807.4" cy="363.5" r="5.6"/>
<circle cx="801.6" cy="363.1" r="5.6"/>
<circle cx="786.8" cy="364.3" r="5.6"/>
<circle cx="803.3" cy="364.7" r="5.6"/>
<circle cx="810.2" cy="364.2" r="5.6"/>
<circle cx="790.1" cy="365.0" r="5.6"/>
<circle cx="815.0" cy="366.3" r="5.6"/>
<circle cx="797.4" cy="366.8" r="5.6"/>
<circle cx="789.6" cy="366.7" r="5.6"/>
<circle cx="794.1" cy="368.2" r="5.6"/>
<circle cx="803.7" cy="370.0" r="5.6"/>
<circle cx="795.4" cy="371.0" r="5.6"/>
<circle cx="787.5" cy="372.8" r="5.6"/>
<circle cx="790.7" cy="372.5" r="5.6"/>
<circle cx="787.4" cy="374.0" r="5.6"/>
<circle cx="790.5" cy="373.0" r="5.6"/>
<circle cx="787.1" cy="374.7" r="5.6"/>
<circle cx="797.7" cy="374.3" r="5.6"/>
<circle cx="786.8" cy="375.2" r="5.6"/>
<circle cx="787.2" cy="376.7" r="5.6"/>
<circle cx="801.6" cy="376.1" r="5.6"/>
<circle cx="797.8" cy="377.5" r="5.6"/>
<circle cx="806.5" cy="378.0" r="5.6"/>
<circle cx="792.5" cy="378.6" r="5.6"/>
<circle cx="791.1" cy="382.3" r="5.6"/>
<circle cx="788.0" cy="382.8" r="5.6"/>
<circle cx="792.7" cy="383.1" r="5.6"/>
<circle cx="788.9" cy="385.3" r="5.6"/>
<circle cx="795.6" cy="385.2" r="5.6"/>
<circle cx="817.7" cy="386.5" r="5.6"/>
<circle cx="825.3" cy="387.0" r="5.6"/>
<circle cx="798.9" cy="388.9" r="5.6"/>
<circle cx="789.0" cy="389.4" r="5.6"/>
<circle cx="790.8" cy="389.5" r="5.6"/>
<circle cx="796.8" cy="390.5" r="5.6"/>
<circle cx="806.6" cy="391.1" r="5.6"/>
<circle cx="793.8" cy="391.1" r="5.6"/>
<circle cx="792.4" cy="392.1" r="5.6"/>
<circle cx="812.7" cy="392.9" r="5.6"/>
<circle cx="794.2" cy="393.7" r="5.6"/>
<circle cx="793.5" cy="393.1" r="5.6"/>
<circle cx="789.7" cy="394.8" r="5.6"/>
<circle cx="789.9" cy="395.7" r="5.6"/>
<circle cx="787.9" cy="395.0" r="5.6"/>
<circle cx="791.6" cy="395.2" r="5.6"/>
<circle cx="786.6" cy="396.8" r="5.6"/>
<circle cx="806.2" cy="397.1" r="5.6"/>
<circle cx="791.2" cy="397.6" r="5.6"/>
<circle cx="791.2" cy="397.9" r="5.6"/>
<circle cx="786.8" cy="397.1" r="5.6"/>
<circle cx="791.3" cy="397.3" r="5.6"/>
<circle cx="808.5" cy="397.0" r="5.6"/>
<circle cx="820.3" cy="398.7" r="5.6"/>
<circle cx="787.9" cy="398.8" r="5.6"/>
<circle cx="792.4" cy="400.1" r="5.6"/>
<circle cx="794.2" cy="401.5" r="5.6"/>
<circle cx="803.0" cy="402.8" r="5.6"/>
<circle cx="814.8" cy="402.4" r="5.6"/>
<circle cx="795.2" cy="403.4" r="5.6"/>
<circle cx="801.1" cy="403.5" r="5.6"/>
<circle cx="788.1" cy="404.4" r="5.6"/>
<circle cx="794.3" cy="404.8" r="5.6"/>
<circle cx="790.6" cy="405.5" r="5.6"/>
<circle cx="796.8" cy="406.2" r="5.6"/>
<circle cx="786.6" cy="406.8" r="5.6"/>
<circle cx="799.4" cy="407.0" r="5.6"/>
<circle cx="786.1" cy="407.4" r="5.6"/>
<circle cx="791.9" cy="408.0" r="5.6"/>
<circle cx="788.2" cy="410.2" r="5.6"/>
<circle cx="818.1" cy="412.9" r="5.6"/>
<circle cx="790.3" cy="412.0" r="5.6"/>
<circle cx="794.4" cy="412.2" r="5.6"/>
<circle cx="790.4" cy="413.9" r="5.6"/>
<circle cx="796.6" cy="414.9" r="5.6"/>
<circle cx="799.9" cy="416.3" r="5.6"/>
<circle cx="792.9" cy="418.6" r="5.6"/>
<circle cx="787.1" cy="419.0" r="5.6"/>
<circle cx="800.3" cy="418.8" r="5.6"/>
<circle cx="821.9" cy="418.6" r="5.6"/>
<circle cx="814.5" cy="418.4" r="5.6"/>
<circle cx="793.7" cy="419.6" r="5.6"/>
<circle cx="794.7" cy="419.9" r="5.6"/>
<circle cx="793.3" cy="419.9" r="5.6"/>
<circle cx="799.5" cy="424.9" r="5.6"/>
<circle cx="788.7" cy="425.4" r="5.6"/>
<circle cx="787.1" cy="427.1" r="5.6"/>
<circle cx="811.3" cy="427.6" r="5.6"/>
<circle cx="791.5" cy="428.1" r="5.6"/>
<circle cx="804.9" cy="428.9" r="5.6"/>
<circle cx="819.0" cy="429.2" r="5.6"/>
<circle cx="794.8" cy="430.3" r="5.6"/>
<circle cx="796.8" cy="430.0" r="5.6"/>
<circle cx="797.8" cy="431.8" r="5.6"/>
<circle cx="786.1" cy="432.7" r="5.6"/>
<circle cx="785.2" cy="433.0" r="5.6"/>
<circle cx="793.3" cy="432.3" r="5.6"/>
<circle cx="803.5" cy="434.1" r="5.6"/>
<circle cx="800.0" cy="434.5" r="5.6"/>
<circle cx="804.5" cy="435.8" r="5.6"/>
<circle cx="795.0" cy="436.7" r="5.6"/>
<circle cx="802.8" cy="436.4" r="5.6"/>
<circle cx="800.8" cy="437.3" r="5.6"/>
<circle cx="788.0" cy="437.3" r="5.6"/>
<circle cx="798.2" cy="438.6" r="5.6"/>
<circle cx="810.5" cy="438.0" r="5.6"/>
<circle cx="793.0" cy="439.8" r="5.6"/>
<circle cx="816.2" cy="439.2" r="5.6"/>
<circle cx="811.1" cy="439.1" r="5.6"/>
<circle cx="785.5" cy="445.2" r="5.6"/>
<circle cx="799.4" cy="445.6" r="5.6"/>
<circle cx="801.6" cy="446.5" r="5.6"/>
<circle cx="785.4" cy="447.2" r="5.6"/>
<circle cx="789.3" cy="448.1" r="5.6"/>
<circle cx="810.5" cy="448.9" r="5.6"/>
<circle cx="784.3" cy="448.0" r="5.6"/>
<circle cx="786.6" cy="448.4" r="5.6"/>
<circle cx="805.2" cy="449.2" r="5.6"/>
<circle cx="788.8" cy="450.0" r="5.6"/>
<circle cx="794.3" cy="450.7" r="5.6"/>
<circle cx="809.1" cy="450.6" r="5.6"/>
<circle cx="802.3" cy="451.2" r="5.6"/>
<circle cx="787.8" cy="451.3" r="5.6"/>
<circle cx="795.9" cy="452.4" r="5.6"/>
<circle cx="791.6" cy="453.0" r="5.6"/>
<circle cx="808.5" cy="453.5" r="5.6"/>
<circle cx="819.2" cy="454.7" r="5.6"/>
<circle cx="793.4" cy="455.4" r="5.6"/>
<circle cx="790.2" cy="455.5" r="5.6"/>
<circle cx="786.3" cy="455.2" r="5.6"/>
<circle cx="788.5" cy="456.2" r="5.6"/>
<circle cx="796.5" cy="456.3" r="5.6"/>
<circle cx="788.7" cy="456.1" r="5.6"/>
<circle cx="792.5" cy="457.8" r="5.6"/>
<circle cx="808.7" cy="457.4" r="5.6"/>
<circle cx="823.7" cy="459.7" r="5.6"/>
<circle cx="794.6" cy="459.6" r="5.6"/>
<circle cx="802.1" cy="461.6" r="5.6"/>
<circle cx="790.0" cy="461.6" r="5.6"/>
<circle cx="798.2" cy="463.5" r="5.6"/>
<circle cx="789.2" cy="465.8" r="5.6"/>
<circle cx="795.3" cy="466.5" r="5.6"/>
<circle cx="783.7" cy="466.1" r="5.6"/>
<circle cx="803.4" cy="466.8" r="5.6"/>
<circle cx="788.1" cy="466.2" r="5.6"/>
<circle cx="796.9" cy="467.2" r="5.6"/>
<circle cx="787.1" cy="467.4" r="5.6"/>
<circle cx="792.1" cy="469.7" r="5.6"/>
<circle cx="803.9" cy="470.9" r="5.6"/>
<circle cx="783.4" cy="470.9" r="5.6"/>
<circle cx="785.3" cy="471.6" r="5.6"/>
<circle cx="809.4" cy="471.0" r="5.6"/>
<circle cx="789.0" cy="472.1" r="5.6"/>
<circle cx="787.8" cy="472.9" r="5.6"/>
<circle cx="785.5" cy="472.4" r="5.6"/>
<circle cx="783.7" cy="473.2" r="5.6"/>
<circle cx="791.8" cy="473.7" r="5.6"/>
<circle cx="784.4" cy="473.6" r="5.6"/>
<circle cx="805.0" cy="475.5" r="5.6"/>
<circle cx="801.4" cy="475.5" r="5.6"/>
<circle cx="819.9" cy="476.0" r="5.6"/>
<circle cx="823.7" cy="477.0" r="5.6"/>
<circle cx="783.4" cy="478.9" r="5.6"/>
<circle cx="785.1" cy="479.2" r="5.6"/>
<circle cx="789.1" cy="479.6" r="5.6"/>
<circle cx="806.8" cy="480.7" r="5.6"/>
<circle cx="782.7" cy="484.7" r="5.6"/>
<circle cx="808.4" cy="485.7" r="5.6"/>
<circle cx="798.7" cy="485.5" r="5.6"/>
<circle cx="782.5" cy="486.9" r="5.6"/>
<circle cx="788.0" cy="486.6" r="5.6"/>
<circle cx="784.2" cy="487.8" r="5.6"/>
<circle cx="786.6" cy="487.6" r="5.6"/>
<circle cx="803.4" cy="488.9" r="5.6"/>
<circle cx="792.7" cy="488.8" r="5.6"/>
<circle cx="789.3" cy="489.9" r="5.6"/>
<circle cx="801.0" cy="490.3" r="5.6"/>
<circle cx="792.7" cy="490.2" r="5.6"/>
<circle cx="788.0" cy="490.4" r="5.6"/>
<circle cx="787.0" cy="493.7" r="5.6"/>
<circle cx="783.1" cy="493.1" r="5.6"/>
<circle cx="815.8" cy="494.5" r="5.6"/>
<circle cx="785.0" cy="495.6" r="5.6"/>
<circle cx="788.5" cy="495.8" r="5.6"/>
<circle cx="805.2" cy="496.5" r="5.6"/>
<circle cx="797.0" cy="498.7" r="5.6"/>
<circle cx="789.3" cy="499.0" r="5.6"/>
<circle cx="786.8" cy="500.9" r="5.6"/>
<circle cx="793.7" cy="501.0" r="5.6"/>
<circle cx="786.0" cy="502.7" r="5.6"/>
<circle cx="788.4" cy="502.7" r="5.6"/>
<circle cx="780.7" cy="502.3" r="5.6"/>
<circle cx="813.4" cy="504.4" r="5.6"/>
<circle cx="780.2" cy="504.7" r="5.6"/>
<circle cx="783.4" cy="507.3" r="5.6"/>
<circle cx="791.0" cy="509.2" r="5.6"/>
<circle cx="781.4" cy="509.3" r="5.6"/>
<circle cx="782.8" cy="511.3" r="5.6"/>
<circle cx="801.0" cy="511.2" r="5.6"/>
<circle cx="783.2" cy="512.9" r="5.6"/>
<circle cx="790.1" cy="515.3" r="5.6"/>
<circle cx="781.6" cy="516.1" r="5.6"/>
<circle cx="780.9" cy="516.1" r="5.6"/>
<circle cx="798.1" cy="516.4" r="5.6"/>
<circle cx="781.0" cy="516.5" r="5.6"/>
<circle cx="786.0" cy="517.8" r="5.6"/>
<circle cx="787.7" cy="518.7" r="5.6"/>
<circle cx="786.9" cy="518.2" r="5.6"/>
<circle cx="794.8" cy="518.9" r="5.6"/>
<circle cx="784.7" cy="518.4" r="5.6"/>
<circle cx="787.7" cy="519.2" r="5.6"/>
<circle cx="801.3" cy="520.9" r="5.6"/>
<circle cx="785.9" cy="523.1" r="5.6"/>
<circle cx="785.4" cy="523.5" r="5.6"/>
<circle cx="812.5" cy="524.6" r="5.6"/>
<circle cx="780.2" cy="524.1" r="5.6"/>
<circle cx="784.3" cy="525.3" r="5.6"/>
<circle cx="798.1" cy="526.4" r="5.6"/>
<circle cx="803.2" cy="526.1" r="5.6"/>
<circle cx="780.2" cy="526.1" r="5.6"/>
<circle cx="778.7" cy="528.0" r="5.6"/>
<circle cx="780.5" cy="527.8" r="5.6"/>
<circle cx="786.4" cy="527.3" r="5.6"/>
<circle cx="779.6" cy="528.9" r="5.6"/>
<circle cx="786.5" cy="529.8" r="5.6"/>
<circle cx="791.4" cy="529.4" r="5.6"/>
<circle cx="784.6" cy="530.1" r="5.6"/>
<circle cx="779.2" cy="530.1" r="5.6"/>
<circle cx="782.4" cy="531.4" r="5.6"/>
<circle cx="785.6" cy="531.8" r="5.6"/>
<circle cx="792.1" cy="536.0" r="5.6"/>
<circle cx="784.2" cy="536.5" r="5.6"/>
<circle cx="777.8" cy="537.3" r="5.6"/>
<circle cx="789.4" cy="537.2" r="5.6"/>
<circle cx="812.7" cy="538.7" r="5.6"/>
<circle cx="815.9" cy="539.4" r="5.6"/>
<circle cx="787.6" cy="539.0" r="5.6"/>
<circle cx="784.3" cy="541.9" r="5.6"/>
<circle cx="777.2" cy="544.8" r="5.6"/>
<circle cx="802.3" cy="545.7" r="5.6"/>
<circle cx="810.4" cy="545.8" r="5.6"/>
<circle cx="787.0" cy="545.7" r="5.6"/>
<circle cx="780.2" cy="545.3" r="5.6"/>
<circle cx="778.6" cy="545.4" r="5.6"/>
<circle cx="779.3" cy="546.6" r="5.6"/>
<circle cx="779.9" cy="546.6" r="5.6"/>
<circle cx="791.3" cy="547.3" r="5.6"/>
<circle cx="785.6" cy="547.1" r="5.6"/>
<circle cx="784.0" cy="547.7" r="5.6"/>
<circle cx="779.2" cy="549.5" r="5.6"/>
<circle cx="782.8" cy="549.7" r="5.6"/>
<circle cx="793.5" cy="549.7" r="5.6"/>
<circle cx="787.3" cy="550.4" r="5.6"/>
<circle cx="777.1" cy="550.6" r="5.6"/>
<circle cx="778.0" cy="550.7" r="5.6"/>
<circle cx="783.2" cy="551.5" r="5.6"/>
<circle cx="792.0" cy="553.4" r="5.6"/>
<circle cx="798.2" cy="553.9" r="5.6"/>
<circle cx="789.9" cy="555.0" r="5.6"/>
<circle cx="781.0" cy="554.0" r="5.6"/>
<circle cx="790.6" cy="555.6" r="5.6"/>
<circle cx="779.0" cy="556.8" r="5.6"/>
<circle cx="775.5" cy="556.3" r="5.6"/>
<circle cx="775.4" cy="558.7" r="5.6"/>
<circle cx="804.1" cy="558.0" r="5.6"/>
<circle cx="787.7" cy="558.6" r="5.6"/>
<circle cx="802.4" cy="559.2" r="5.6"/>
<circle cx="808.4" cy="560.0" r="5.6"/>
<circle cx="783.9" cy="560.5" r="5.6"/>
<circle cx="777.0" cy="561.0" r="5.6"/>
<circle cx="777.7" cy="560.5" r="5.6"/>
<circle cx="789.6" cy="562.4" r="5.6"/>
<circle cx="788.8" cy="563.9" r="5.6"/>
<circle cx="775.7" cy="565.9" r="5.6"/>
<circle cx="778.9" cy="566.2" r="5.6"/>
<circle cx="775.5" cy="566.2" r="5.6"/>
<circle cx="777.4" cy="566.8" r="5.6"/>
<circle cx="791.6" cy="568.0" r="5.6"/>
<circle cx="776.8" cy="569.3" r="5.6"/>
<circle cx="784.8" cy="570.5" r="5.6"/>
<circle cx="788.3" cy="573.0" r="5.6"/>
<circle cx="782.9" cy="572.3" r="5.6"/>
<circle cx="782.3" cy="572.6" r="5.6"/>
<circle cx="786.8" cy="572.9" r="5.6"/>
<circle cx="781.7" cy="573.9" r="5.6"/>
<circle cx="778.2" cy="573.3" r="5.6"/>
<circle cx="776.0" cy="574.5" r="5.6"/>
<circle cx="774.1" cy="575.7" r="5.6"/>
<circle cx="801.0" cy="575.1" r="5.6"/>
<circle cx="786.8" cy="576.9" r="5.6"/>
<circle cx="790.9" cy="577.6" r="5.6"/>
<circle cx="779.9" cy="577.7" r="5.6"/>
<circle cx="797.7" cy="578.4" r="5.6"/>
<circle cx="786.0" cy="578.6" r="5.6"/>
<circle cx="782.7" cy="578.9" r="5.6"/>
<circle cx="778.5" cy="579.3" r="5.6"/>
<circle cx="785.4" cy="579.1" r="5.6"/>
<circle cx="794.2" cy="579.8" r="5.6"/>
<circle cx="812.2" cy="580.7" r="5.6"/>
<circle cx="775.6" cy="581.8" r="5.6"/>
<circle cx="785.6" cy="581.2" r="5.6"/>
<circle cx="776.0" cy="581.5" r="5.6"/>
<circle cx="776.6" cy="582.7" r="5.6"/>
<circle cx="774.7" cy="582.2" r="5.6"/>
<circle cx="773.0" cy="583.1" r="5.6"/>
<circle cx="781.0" cy="584.2" r="5.6"/>
<circle cx="809.1" cy="584.9" r="5.6"/>
<circle cx="787.6" cy="585.8" r="5.6"/>
<circle cx="789.1" cy="586.6" r="5.6"/>
<circle cx="803.4" cy="587.1" r="5.6"/>
<circle cx="783.9" cy="588.3" r="5.6"/>
<circle cx="782.1" cy="589.1" r="5.6"/>
<circle cx="774.2" cy="591.0" r="5.6"/>
<circle cx="779.4" cy="590.1" r="5.6"/>
<circle cx="793.4" cy="591.9" r="5.6"/>
<circle cx="785.5" cy="592.4" r="5.6"/>
<circle cx="776.2" cy="592.6" r="5.6"/>
<circle cx="775.5" cy="593.0" r="5.6"/>
<circle cx="772.2" cy="593.2" r="5.6"/>
<circle cx="774.4" cy="593.6" r="5.6"/>
<circle cx="780.7" cy="594.7" r="5.6"/>
<circle cx="778.7" cy="594.1" r="5.6"/>
<circle cx="805.2" cy="597.6" r="5.6"/>
<circle cx="776.8" cy="599.5" r="5.6"/>
<circle cx="780.6" cy="599.1" r="5.6"/>
<circle cx="793.4" cy="599.2" r="5.6"/>
<circle cx="776.5" cy="600.7" r="5.6"/>
<circle cx="780.8" cy="600.7" r="5.6"/>
<circle cx="800.8" cy="602.0" r="5.6"/>
<circle cx="796.3" cy="601.2" r="5.6"/>
<circle cx="799.6" cy="601.6" r="5.6"/>
<circle cx="773.1" cy="602.9" r="5.6"/>
<circle cx="777.9" cy="603.4" r="5.6"/>
<circle cx="798.2" cy="604.5" r="5.6"/>
<circle cx="790.7" cy="605.8" r="5.6"/>
<circle cx="773.2" cy="606.4" r="5.6"/>
<circle cx="771.3" cy="606.3" r="5.6"/>
<circle cx="772.1" cy="607.1" r="5.6"/>
<circle cx="781.6" cy="608.0" r="5.6"/>
<circle cx="784.0" cy="608.6" r="5.6"/>
<circle cx="779.2" cy="608.3" r="5.6"/>
<circle cx="783.4" cy="609.8" r="5.6"/>
<circle cx="798.8" cy="612.0" r="5.6"/>
<circle cx="773.3" cy="612.7" r="5.6"/>
<circle cx="775.0" cy="612.2" r="5.6"/>
<circle cx="800.7" cy="613.2" r="5.6"/>
<circle cx="775.6" cy="614.6" r="5.6"/>
<circle cx="801.9" cy="614.3" r="5.6"/>
<circle cx="783.7" cy="615.7" r="5.6"/>
<circle cx="777.7" cy="617.6" r="5.6"/>
<circle cx="783.7" cy="618.2" r="5.6"/>
<circle cx="793.3" cy="618.4" r="5.6"/>
<circle cx="776.5" cy="619.5" r="5.6"/>
<circle cx="775.2" cy="619.6" r="5.6"/>
<circle cx="785.7" cy="620.4" r="5.6"/>
<circle cx="791.6" cy="620.8" r="5.6"/>
<circle cx="789.9" cy="622.6" r="5.6"/>
<circle cx="771.0" cy="622.6" r="5.6"/>
<circle cx="769.2" cy="622.7" r="5.6"/>
<circle cx="773.4" cy="624.6" r="5.6"/>
<circle cx="768.3" cy="625.4" r="5.6"/>
<circle cx="786.4" cy="625.9" r="5.6"/>
<circle cx="768.7" cy="626.4" r="5.6"/>
<circle cx="767.9" cy="627.8" r="5.6"/>
<circle cx="785.3" cy="628.4" r="5.6"/>
<circle cx="797.7" cy="628.1" r="5.6"/>
<circle cx="770.7" cy="628.6" r="5.6"/>
<circle cx="771.5" cy="630.0" r="5.6"/>
<circle cx="772.9" cy="630.6" r="5.6"/>
<circle cx="781.7" cy="630.7" r="5.6"/>
<circle cx="770.2" cy="630.9" r="5.6"/>
<circle cx="776.6" cy="630.2" r="5.6"/>
<circle cx="776.6" cy="631.7" r="5.6"/>
<circle cx="780.3" cy="631.2" r="5.6"/>
<circle cx="774.6" cy="631.7" r="5.6"/>
<circle cx="794.1" cy="631.2" r="5.6"/>
<circle cx="768.5" cy="632.4" r="5.6"/>
<circle cx="767.8" cy="634.1" r="5.6"/>
<circle cx="776.1" cy="634.4" r="5.6"/>
<circle cx="775.3" cy="635.4" r="5.6"/>
<circle cx="769.7" cy="636.7" r="5.6"/>
<circle cx="780.8" cy="637.8" r="5.6"/>
<circle cx="768.8" cy="637.4" r="5.6"/>
<circle cx="794.9" cy="638.7" r="5.6"/>
<circle cx="782.3" cy="640.7" r="5.6"/>
<circle cx="771.8" cy="640.9" r="5.6"/>
<circle cx="764.8" cy="640.5" r="5.6"/>
<circle cx="791.1" cy="640.5" r="5.6"/>
<circle cx="771.0" cy="640.1" r="5.6"/>
<circle cx="767.4" cy="640.3" r="5.6"/>
<circle cx="791.1" cy="641.6" r="5.6"/>
<circle cx="769.1" cy="641.7" r="5.6"/>
<circle cx="778.2" cy="643.0" r="5.6"/>
<circle cx="767.0" cy="643.7" r="5.6"/>
<circle cx="772.2" cy="644.6" r="5.6"/>
<circle cx="764.2" cy="644.0" r="5.6"/>
<circle cx="779.1" cy="645.9" r="5.6"/>
<circle cx="786.6" cy="645.6" r="5.6"/>
<circle cx="771.5" cy="646.9" r="5.6"/>
<circle cx="769.6" cy="646.3" r="5.6"/>
<circle cx="771.5" cy="647.6" r="5.6"/>
<circle cx="778.2" cy="647.1" r="5.6"/>
<circle cx="769.5" cy="647.4" r="5.6"/>
<circle cx="775.7" cy="647.4" r="5.6"/>
<circle cx="768.5" cy="647.2" r="5.6"/>
<circle cx="766.4" cy="648.9" r="5.6"/>
<circle cx="764.4" cy="649.5" r="5.6"/>
<circle cx="768.0" cy="650.5" r="5.6"/>
<circle cx="776.3" cy="653.6" r="5.6"/>
<circle cx="774.8" cy="654.0" r="5.6"/>
<circle cx="767.9" cy="653.9" r="5.6"/>
<circle cx="770.9" cy="654.9" r="5.6"/>
<circle cx="789.0" cy="654.1" r="5.6"/>
<circle cx="771.1" cy="654.1" r="5.6"/>
<circle cx="766.8" cy="655.3" r="5.6"/>
<circle cx="768.9" cy="656.9" r="5.6"/>
<circle cx="764.4" cy="657.9" r="5.6"/>
<circle cx="771.6" cy="657.4" r="5.6"/>
<circle cx="761.7" cy="657.5" r="5.6"/>
<circle cx="764.9" cy="659.2" r="5.6"/>
<circle cx="769.9" cy="660.1" r="5.6"/>
<circle cx="760.5" cy="661.0" r="5.6"/>
<circle cx="787.9" cy="661.6" r="5.6"/>
<circle cx="778.9" cy="662.6" r="5.6"/>
<circle cx="765.1" cy="663.3" r="5.6"/>
<circle cx="797.3" cy="663.1" r="5.6"/>
<circle cx="764.6" cy="665.9" r="5.6"/>
<circle cx="762.9" cy="666.4" r="5.6"/>
<circle cx="776.3" cy="667.6" r="5.6"/>
<circle cx="788.6" cy="669.0" r="5.6"/>
<circle cx="765.0" cy="669.3" r="5.6"/>
<circle cx="785.5" cy="669.2" r="5.6"/>
<circle cx="783.2" cy="669.3" r="5.6"/>
<circle cx="773.3" cy="670.6" r="5.6"/>
<circle cx="762.7" cy="671.0" r="5.6"/>
<circle cx="792.1" cy="670.7" r="5.6"/>
<circle cx="762.1" cy="671.6" r="5.6"/>
<circle cx="784.8" cy="671.8" r="5.6"/>
<circle cx="764.5" cy="673.2" r="5.6"/>
<circle cx="760.1" cy="673.5" r="5.6"/>
<circle cx="765.6" cy="673.5" r="5.6"/>
<circle cx="758.4" cy="674.9" r="5.6"/>
<circle cx="767.4" cy="674.6" r="5.6"/>
<circle cx="761.2" cy="675.5" r="5.6"/>
<circle cx="788.1" cy="676.2" r="5.6"/>
<circle cx="768.6" cy="677.6" r="5.6"/>
<circle cx="765.5" cy="677.8" r="5.6"/>
<circle cx="768.4" cy="680.1" r="5.6"/>
<circle cx="785.8" cy="680.9" r="5.6"/>
<circle cx="764.5" cy="681.8" r="5.6"/>
<circle cx="776.2" cy="681.9" r="5.6"/>
<circle cx="756.5" cy="682.7" r="5.6"/>
<circle cx="760.0" cy="683.9" r="5.6"/>
<circle cx="761.0" cy="683.1" r="5.6"/>
<circle cx="775.7" cy="684.3" r="5.6"/>
<circle cx="773.4" cy="684.0" r="5.6"/>
<circle cx="787.6" cy="686.4" r="5.6"/>
<circle cx="756.4" cy="686.2" r="5.6"/>
<circle cx="759.0" cy="687.2" r="5.6"/>
<circle cx="756.3" cy="687.0" r="5.6"/>
<circle cx="767.3" cy="687.3" r="5.6"/>
<circle cx="762.8" cy="688.0" r="5.6"/>
<circle cx="752.2" cy="689.6" r="5.6"/>
<circle cx="763.3" cy="690.9" r="5.6"/>
<circle cx="776.6" cy="690.5" r="5.6"/>
<circle cx="763.2" cy="690.4" r="5.6"/>
<circle cx="760.5" cy="691.2" r="5.6"/>
<circle cx="755.1" cy="692.3" r="5.6"/>
<circle cx="793.2" cy="693.2" r="5.6"/>
<circle cx="764.3" cy="694.9" r="5.6"/>
<circle cx="789.2" cy="695.5" r="5.6"/>
</g>
<circle cx="787.6" cy="310.2" r="5.6" fill="none" stroke="#000" stroke-width="2.2"/>
<g stroke="#808080" stroke-width="3" stroke-dasharray="10.28 4.44" fill="none">
<line x1="124.6" y1="696.5" x2="1209" y2="696.5"/>
<line x1="569.5" y1="790.6" x2="569.5" y2="20"/>
<line x1="747.5" y1="790.6" x2="747.5" y2="20"/>
</g>
</g>
<rect x="783.2" y="277.8" width="105.5" height="31.2" rx="3.75" fill="#fff" fill-opacity="0.85" stroke="#808080" stroke-width="2.4"/>
<text x="786.6" y="300.6" font-size="25">SESTD1</text>
<rect x="124.1" y="19.95" width="1085" height="770.1" fill="none" stroke="#000" stroke-width="2.2"/>
<g stroke="#000" stroke-width="2.2">
<line x1="124.0" y1="790" x2="124.0" y2="799.8"/>
<line x1="302.0" y1="790" x2="302.0" y2="799.8"/>
<line x1="480.0" y1="790" x2="480.0" y2="799.8"/>
<line x1="658.0" y1="790" x2="658.0" y2="799.8"/>
<line x1="836.0" y1="790" x2="836.0" y2="799.8"/>
<line x1="1014.0" y1="790" x2="1014.0" y2="799.8"/>
<line x1="1192.0" y1="790" x2="1192.0" y2="799.8"/>
<line x1="124" y1="755" x2="114.3" y2="755"/>
<line x1="124" y1="664" x2="114.3" y2="664"/>
<line x1="124" y1="574" x2="114.3" y2="574"/>
<line x1="124" y1="483" x2="114.3" y2="483"/>
<line x1="124" y1="392" x2="114.3" y2="392"/>
<line x1="124" y1="302" x2="114.3" y2="302"/>
<line x1="124" y1="211" x2="114.3" y2="211"/>
<line x1="124" y1="120" x2="114.3" y2="120"/>
<line x1="124" y1="30" x2="114.3" y2="30"/>
</g>
<g font-size="27.78" text-anchor="middle">
<text x="124.9" y="832.9">−6</text>
<text x="302.9" y="832.9">−4</text>
<text x="480.9" y="832.9">−2</text>
<text x="658.3" y="832.9">0</text>
<text x="836.3" y="832.9">2</text>
<text x="1014.3" y="832.9">4</text>
<text x="1192.3" y="832.9">6</text>
</g>
<g font-size="27.78" text-anchor="end">
<text x="105.0" y="767.3">0</text>
<text x="105.0" y="676.7">2</text>
<text x="105.0" y="586.1">4</text>
<text x="105.0" y="495.4">6</text>
<text x="105.0" y="404.8">8</text>
<text x="105.0" y="314.2">10</text>
<text x="105.0" y="223.6">12</text>
<text x="105.0" y="133.0">14</text>
<text x="105.0" y="42.3">16</text>
</g>
<text x="666.5" y="880.3" font-size="38.89" text-anchor="middle">logFC</text>
<text transform="translate(51.1 409.3) rotate(-90)" font-size="38.89" text-anchor="middle">-log10(adjP)</text>
</svg>
</body></html>
